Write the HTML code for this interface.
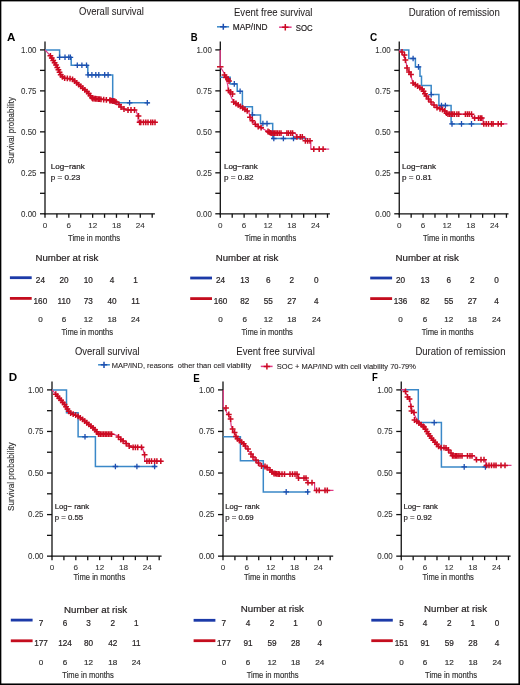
<!DOCTYPE html>
<html><head><meta charset="utf-8"><style>
html,body{margin:0;padding:0;background:#fff;}
svg{display:block;font-family:"Liberation Sans", sans-serif;will-change:transform;}

</style></head><body>
<svg width="520" height="685" viewBox="0 0 520 685">
<rect x="0" y="0" width="520" height="685" fill="#000"/>
<rect x="1.35" y="1.4" width="517.05" height="682.05" fill="#fff"/>
<text x="79" y="14.8" font-size="10.5" text-anchor="start" font-weight="normal" fill="#231f20" stroke="#231f20" stroke-width="0.05" textLength="65" lengthAdjust="spacingAndGlyphs" >Overall survival</text>
<text x="234" y="15.8" font-size="10.2" text-anchor="start" font-weight="normal" fill="#231f20" stroke="#231f20" stroke-width="0.05" textLength="78.5" lengthAdjust="spacingAndGlyphs" >Event free survival</text>
<text x="408.7" y="15.8" font-size="10.2" text-anchor="start" font-weight="normal" fill="#231f20" stroke="#231f20" stroke-width="0.05" textLength="91.1" lengthAdjust="spacingAndGlyphs" >Duration of remission</text>
<text x="75" y="354.5" font-size="10.5" text-anchor="start" font-weight="normal" fill="#231f20" stroke="#231f20" stroke-width="0.05" textLength="64.5" lengthAdjust="spacingAndGlyphs" >Overall survival</text>
<text x="236.3" y="354.5" font-size="10.2" text-anchor="start" font-weight="normal" fill="#231f20" stroke="#231f20" stroke-width="0.05" textLength="78.5" lengthAdjust="spacingAndGlyphs" >Event free survival</text>
<text x="415.4" y="354.5" font-size="10.2" text-anchor="start" font-weight="normal" fill="#231f20" stroke="#231f20" stroke-width="0.05" textLength="90.1" lengthAdjust="spacingAndGlyphs" >Duration of remission</text>
<line x1="217" y1="26.8" x2="229.1" y2="26.8" stroke="#3a88c8" stroke-width="1.5"/>
<path d="M220.10,26.80H226.50M223.30,23.80V29.80" stroke="#1d4fb0" stroke-width="1.5" fill="none"/>
<text x="232.8" y="29.8" font-size="8.7" text-anchor="start" font-weight="normal" fill="#231f20" stroke="#231f20" stroke-width="0.2" textLength="34.7" lengthAdjust="spacingAndGlyphs" >MAP/IND</text>
<line x1="279.1" y1="27.2" x2="291.6" y2="27.2" stroke="#e03a86" stroke-width="1.5"/>
<path d="M282.10,27.20H288.50M285.30,23.90V30.50" stroke="#cc0a22" stroke-width="1.5" fill="none"/>
<text x="295.7" y="30.9" font-size="9.2" text-anchor="start" font-weight="normal" fill="#231f20" stroke="#231f20" stroke-width="0.2" textLength="16.9" lengthAdjust="spacingAndGlyphs" >SOC</text>
<line x1="98.1" y1="364.8" x2="109.9" y2="364.8" stroke="#3a88c8" stroke-width="1.5"/>
<path d="M100.80,364.80H107.20M104.00,361.70V367.90" stroke="#1d4fb0" stroke-width="1.5" fill="none"/>
<text x="111.75" y="367.5" font-size="8.0" text-anchor="start" font-weight="normal" fill="#231f20" stroke="#231f20" stroke-width="0.1" textLength="139.5" lengthAdjust="spacingAndGlyphs" >MAP/IND, reasons&#160; other than cell viability</text>
<line x1="260.8" y1="366.4" x2="272.6" y2="366.4" stroke="#e03a86" stroke-width="1.5"/>
<path d="M263.70,366.40H270.10M266.90,363.20V369.60" stroke="#cc0a22" stroke-width="1.5" fill="none"/>
<text x="276.75" y="369.25" font-size="8.0" text-anchor="start" font-weight="normal" fill="#231f20" stroke="#231f20" stroke-width="0.1" textLength="139.2" lengthAdjust="spacingAndGlyphs" >SOC + MAP/IND with cell viability 70-79%</text>
<text x="6.9" y="40.6" font-size="10.8" text-anchor="start" font-weight="bold" fill="#000" stroke="#000" stroke-width="0" textLength="8.4" lengthAdjust="spacingAndGlyphs" >A</text>
<text x="190.7" y="41.3" font-size="10.8" text-anchor="start" font-weight="bold" fill="#000" stroke="#000" stroke-width="0" textLength="6.9" lengthAdjust="spacingAndGlyphs" >B</text>
<text x="370" y="40.7" font-size="10.8" text-anchor="start" font-weight="bold" fill="#000" stroke="#000" stroke-width="0" textLength="7.2" lengthAdjust="spacingAndGlyphs" >C</text>
<text x="8.7" y="381.4" font-size="10.8" text-anchor="start" font-weight="bold" fill="#000" stroke="#000" stroke-width="0" textLength="8.4" lengthAdjust="spacingAndGlyphs" >D</text>
<text x="193.2" y="381.8" font-size="10.8" text-anchor="start" font-weight="bold" fill="#000" stroke="#000" stroke-width="0" textLength="6.5" lengthAdjust="spacingAndGlyphs" >E</text>
<text x="372" y="381.4" font-size="10.8" text-anchor="start" font-weight="bold" fill="#000" stroke="#000" stroke-width="0" textLength="5.8" lengthAdjust="spacingAndGlyphs" >F</text>
<text x="0" y="0" font-size="9" fill="#333" stroke="#333" stroke-width="0.15" text-anchor="middle" textLength="66.5" lengthAdjust="spacingAndGlyphs" transform="translate(14.4,130.4) rotate(-90)">Survival probability</text>
<text x="0" y="0" font-size="9" fill="#333" stroke="#333" stroke-width="0.15" text-anchor="middle" textLength="68.6" lengthAdjust="spacingAndGlyphs" transform="translate(14.3,476.7) rotate(-90)">Survival probability</text>
<line x1="45.0" y1="41.5" x2="45.0" y2="214.4" stroke="#111" stroke-width="1.3"/>
<line x1="44.4" y1="213.8" x2="154.9" y2="213.8" stroke="#111" stroke-width="1.3"/>
<line x1="40.0" y1="49.9" x2="45.0" y2="49.9" stroke="#111" stroke-width="1.3"/>
<line x1="40.0" y1="70.3875" x2="45.0" y2="70.3875" stroke="#111" stroke-width="1.3"/>
<line x1="40.0" y1="90.875" x2="45.0" y2="90.875" stroke="#111" stroke-width="1.3"/>
<line x1="40.0" y1="111.36250000000001" x2="45.0" y2="111.36250000000001" stroke="#111" stroke-width="1.3"/>
<line x1="40.0" y1="131.85" x2="45.0" y2="131.85" stroke="#111" stroke-width="1.3"/>
<line x1="40.0" y1="152.3375" x2="45.0" y2="152.3375" stroke="#111" stroke-width="1.3"/>
<line x1="40.0" y1="172.82500000000002" x2="45.0" y2="172.82500000000002" stroke="#111" stroke-width="1.3"/>
<line x1="40.0" y1="193.3125" x2="45.0" y2="193.3125" stroke="#111" stroke-width="1.3"/>
<line x1="40.0" y1="213.8" x2="45.0" y2="213.8" stroke="#111" stroke-width="1.3"/>
<text x="36.5" y="52.8" font-size="8.2" text-anchor="end" font-weight="normal" fill="#333" stroke="#333" stroke-width="0.08" textLength="15.4" lengthAdjust="spacingAndGlyphs" >1.00</text>
<text x="36.5" y="93.775" font-size="8.2" text-anchor="end" font-weight="normal" fill="#333" stroke="#333" stroke-width="0.08" textLength="15.4" lengthAdjust="spacingAndGlyphs" >0.75</text>
<text x="36.5" y="134.75" font-size="8.2" text-anchor="end" font-weight="normal" fill="#333" stroke="#333" stroke-width="0.08" textLength="15.4" lengthAdjust="spacingAndGlyphs" >0.50</text>
<text x="36.5" y="175.72500000000002" font-size="8.2" text-anchor="end" font-weight="normal" fill="#333" stroke="#333" stroke-width="0.08" textLength="15.4" lengthAdjust="spacingAndGlyphs" >0.25</text>
<text x="36.5" y="216.70000000000002" font-size="8.2" text-anchor="end" font-weight="normal" fill="#333" stroke="#333" stroke-width="0.08" textLength="15.4" lengthAdjust="spacingAndGlyphs" >0.00</text>
<line x1="45.0" y1="213.8" x2="45.0" y2="217.8" stroke="#111" stroke-width="1.3"/>
<line x1="56.91" y1="213.8" x2="56.91" y2="217.8" stroke="#111" stroke-width="1.3"/>
<line x1="68.82" y1="213.8" x2="68.82" y2="217.8" stroke="#111" stroke-width="1.3"/>
<line x1="80.73" y1="213.8" x2="80.73" y2="217.8" stroke="#111" stroke-width="1.3"/>
<line x1="92.64" y1="213.8" x2="92.64" y2="217.8" stroke="#111" stroke-width="1.3"/>
<line x1="104.55000000000001" y1="213.8" x2="104.55000000000001" y2="217.8" stroke="#111" stroke-width="1.3"/>
<line x1="116.46000000000001" y1="213.8" x2="116.46000000000001" y2="217.8" stroke="#111" stroke-width="1.3"/>
<line x1="128.37" y1="213.8" x2="128.37" y2="217.8" stroke="#111" stroke-width="1.3"/>
<line x1="140.28" y1="213.8" x2="140.28" y2="217.8" stroke="#111" stroke-width="1.3"/>
<line x1="152.19" y1="213.8" x2="152.19" y2="217.8" stroke="#111" stroke-width="1.3"/>
<text x="45.0" y="227.9" font-size="8.1" text-anchor="middle" font-weight="normal" fill="#333" stroke="#333" stroke-width="0.08" >0</text>
<text x="68.82" y="227.9" font-size="8.1" text-anchor="middle" font-weight="normal" fill="#333" stroke="#333" stroke-width="0.08" >6</text>
<text x="92.64" y="227.9" font-size="8.1" text-anchor="middle" font-weight="normal" fill="#333" stroke="#333" stroke-width="0.08" >12</text>
<text x="116.46000000000001" y="227.9" font-size="8.1" text-anchor="middle" font-weight="normal" fill="#333" stroke="#333" stroke-width="0.08" >18</text>
<text x="140.28" y="227.9" font-size="8.1" text-anchor="middle" font-weight="normal" fill="#333" stroke="#333" stroke-width="0.08" >24</text>
<line x1="220.3" y1="41.5" x2="220.3" y2="214.4" stroke="#111" stroke-width="1.3"/>
<line x1="219.70000000000002" y1="213.8" x2="329.9" y2="213.8" stroke="#111" stroke-width="1.3"/>
<line x1="215.3" y1="49.9" x2="220.3" y2="49.9" stroke="#111" stroke-width="1.3"/>
<line x1="215.3" y1="70.3875" x2="220.3" y2="70.3875" stroke="#111" stroke-width="1.3"/>
<line x1="215.3" y1="90.875" x2="220.3" y2="90.875" stroke="#111" stroke-width="1.3"/>
<line x1="215.3" y1="111.36250000000001" x2="220.3" y2="111.36250000000001" stroke="#111" stroke-width="1.3"/>
<line x1="215.3" y1="131.85" x2="220.3" y2="131.85" stroke="#111" stroke-width="1.3"/>
<line x1="215.3" y1="152.3375" x2="220.3" y2="152.3375" stroke="#111" stroke-width="1.3"/>
<line x1="215.3" y1="172.82500000000002" x2="220.3" y2="172.82500000000002" stroke="#111" stroke-width="1.3"/>
<line x1="215.3" y1="193.3125" x2="220.3" y2="193.3125" stroke="#111" stroke-width="1.3"/>
<line x1="215.3" y1="213.8" x2="220.3" y2="213.8" stroke="#111" stroke-width="1.3"/>
<text x="211.8" y="52.8" font-size="8.2" text-anchor="end" font-weight="normal" fill="#333" stroke="#333" stroke-width="0.08" textLength="15.4" lengthAdjust="spacingAndGlyphs" >1.00</text>
<text x="211.8" y="93.775" font-size="8.2" text-anchor="end" font-weight="normal" fill="#333" stroke="#333" stroke-width="0.08" textLength="15.4" lengthAdjust="spacingAndGlyphs" >0.75</text>
<text x="211.8" y="134.75" font-size="8.2" text-anchor="end" font-weight="normal" fill="#333" stroke="#333" stroke-width="0.08" textLength="15.4" lengthAdjust="spacingAndGlyphs" >0.50</text>
<text x="211.8" y="175.72500000000002" font-size="8.2" text-anchor="end" font-weight="normal" fill="#333" stroke="#333" stroke-width="0.08" textLength="15.4" lengthAdjust="spacingAndGlyphs" >0.25</text>
<text x="211.8" y="216.70000000000002" font-size="8.2" text-anchor="end" font-weight="normal" fill="#333" stroke="#333" stroke-width="0.08" textLength="15.4" lengthAdjust="spacingAndGlyphs" >0.00</text>
<line x1="220.3" y1="213.8" x2="220.3" y2="217.8" stroke="#111" stroke-width="1.3"/>
<line x1="232.21" y1="213.8" x2="232.21" y2="217.8" stroke="#111" stroke-width="1.3"/>
<line x1="244.12" y1="213.8" x2="244.12" y2="217.8" stroke="#111" stroke-width="1.3"/>
<line x1="256.03000000000003" y1="213.8" x2="256.03000000000003" y2="217.8" stroke="#111" stroke-width="1.3"/>
<line x1="267.94" y1="213.8" x2="267.94" y2="217.8" stroke="#111" stroke-width="1.3"/>
<line x1="279.85" y1="213.8" x2="279.85" y2="217.8" stroke="#111" stroke-width="1.3"/>
<line x1="291.76" y1="213.8" x2="291.76" y2="217.8" stroke="#111" stroke-width="1.3"/>
<line x1="303.67" y1="213.8" x2="303.67" y2="217.8" stroke="#111" stroke-width="1.3"/>
<line x1="315.58000000000004" y1="213.8" x2="315.58000000000004" y2="217.8" stroke="#111" stroke-width="1.3"/>
<line x1="327.49" y1="213.8" x2="327.49" y2="217.8" stroke="#111" stroke-width="1.3"/>
<text x="220.3" y="227.9" font-size="8.1" text-anchor="middle" font-weight="normal" fill="#333" stroke="#333" stroke-width="0.08" >0</text>
<text x="244.12" y="227.9" font-size="8.1" text-anchor="middle" font-weight="normal" fill="#333" stroke="#333" stroke-width="0.08" >6</text>
<text x="267.94" y="227.9" font-size="8.1" text-anchor="middle" font-weight="normal" fill="#333" stroke="#333" stroke-width="0.08" >12</text>
<text x="291.76" y="227.9" font-size="8.1" text-anchor="middle" font-weight="normal" fill="#333" stroke="#333" stroke-width="0.08" >18</text>
<text x="315.58000000000004" y="227.9" font-size="8.1" text-anchor="middle" font-weight="normal" fill="#333" stroke="#333" stroke-width="0.08" >24</text>
<line x1="399.25" y1="41.5" x2="399.25" y2="214.4" stroke="#111" stroke-width="1.3"/>
<line x1="398.65" y1="213.8" x2="508.5" y2="213.8" stroke="#111" stroke-width="1.3"/>
<line x1="394.25" y1="49.9" x2="399.25" y2="49.9" stroke="#111" stroke-width="1.3"/>
<line x1="394.25" y1="70.3875" x2="399.25" y2="70.3875" stroke="#111" stroke-width="1.3"/>
<line x1="394.25" y1="90.875" x2="399.25" y2="90.875" stroke="#111" stroke-width="1.3"/>
<line x1="394.25" y1="111.36250000000001" x2="399.25" y2="111.36250000000001" stroke="#111" stroke-width="1.3"/>
<line x1="394.25" y1="131.85" x2="399.25" y2="131.85" stroke="#111" stroke-width="1.3"/>
<line x1="394.25" y1="152.3375" x2="399.25" y2="152.3375" stroke="#111" stroke-width="1.3"/>
<line x1="394.25" y1="172.82500000000002" x2="399.25" y2="172.82500000000002" stroke="#111" stroke-width="1.3"/>
<line x1="394.25" y1="193.3125" x2="399.25" y2="193.3125" stroke="#111" stroke-width="1.3"/>
<line x1="394.25" y1="213.8" x2="399.25" y2="213.8" stroke="#111" stroke-width="1.3"/>
<text x="390.75" y="52.8" font-size="8.2" text-anchor="end" font-weight="normal" fill="#333" stroke="#333" stroke-width="0.08" textLength="15.4" lengthAdjust="spacingAndGlyphs" >1.00</text>
<text x="390.75" y="93.775" font-size="8.2" text-anchor="end" font-weight="normal" fill="#333" stroke="#333" stroke-width="0.08" textLength="15.4" lengthAdjust="spacingAndGlyphs" >0.75</text>
<text x="390.75" y="134.75" font-size="8.2" text-anchor="end" font-weight="normal" fill="#333" stroke="#333" stroke-width="0.08" textLength="15.4" lengthAdjust="spacingAndGlyphs" >0.50</text>
<text x="390.75" y="175.72500000000002" font-size="8.2" text-anchor="end" font-weight="normal" fill="#333" stroke="#333" stroke-width="0.08" textLength="15.4" lengthAdjust="spacingAndGlyphs" >0.25</text>
<text x="390.75" y="216.70000000000002" font-size="8.2" text-anchor="end" font-weight="normal" fill="#333" stroke="#333" stroke-width="0.08" textLength="15.4" lengthAdjust="spacingAndGlyphs" >0.00</text>
<line x1="399.25" y1="213.8" x2="399.25" y2="217.8" stroke="#111" stroke-width="1.3"/>
<line x1="411.16" y1="213.8" x2="411.16" y2="217.8" stroke="#111" stroke-width="1.3"/>
<line x1="423.07" y1="213.8" x2="423.07" y2="217.8" stroke="#111" stroke-width="1.3"/>
<line x1="434.98" y1="213.8" x2="434.98" y2="217.8" stroke="#111" stroke-width="1.3"/>
<line x1="446.89" y1="213.8" x2="446.89" y2="217.8" stroke="#111" stroke-width="1.3"/>
<line x1="458.8" y1="213.8" x2="458.8" y2="217.8" stroke="#111" stroke-width="1.3"/>
<line x1="470.71000000000004" y1="213.8" x2="470.71000000000004" y2="217.8" stroke="#111" stroke-width="1.3"/>
<line x1="482.62" y1="213.8" x2="482.62" y2="217.8" stroke="#111" stroke-width="1.3"/>
<line x1="494.53" y1="213.8" x2="494.53" y2="217.8" stroke="#111" stroke-width="1.3"/>
<line x1="506.44" y1="213.8" x2="506.44" y2="217.8" stroke="#111" stroke-width="1.3"/>
<text x="399.25" y="227.9" font-size="8.1" text-anchor="middle" font-weight="normal" fill="#333" stroke="#333" stroke-width="0.08" >0</text>
<text x="423.07" y="227.9" font-size="8.1" text-anchor="middle" font-weight="normal" fill="#333" stroke="#333" stroke-width="0.08" >6</text>
<text x="446.89" y="227.9" font-size="8.1" text-anchor="middle" font-weight="normal" fill="#333" stroke="#333" stroke-width="0.08" >12</text>
<text x="470.71000000000004" y="227.9" font-size="8.1" text-anchor="middle" font-weight="normal" fill="#333" stroke="#333" stroke-width="0.08" >18</text>
<text x="494.53" y="227.9" font-size="8.1" text-anchor="middle" font-weight="normal" fill="#333" stroke="#333" stroke-width="0.08" >24</text>
<line x1="52.0" y1="381.5" x2="52.0" y2="556.75" stroke="#111" stroke-width="1.3"/>
<line x1="51.4" y1="556.15" x2="161.6" y2="556.15" stroke="#111" stroke-width="1.3"/>
<line x1="47.0" y1="389.9" x2="52.0" y2="389.9" stroke="#111" stroke-width="1.3"/>
<line x1="47.0" y1="410.68125" x2="52.0" y2="410.68125" stroke="#111" stroke-width="1.3"/>
<line x1="47.0" y1="431.4625" x2="52.0" y2="431.4625" stroke="#111" stroke-width="1.3"/>
<line x1="47.0" y1="452.24375" x2="52.0" y2="452.24375" stroke="#111" stroke-width="1.3"/>
<line x1="47.0" y1="473.025" x2="52.0" y2="473.025" stroke="#111" stroke-width="1.3"/>
<line x1="47.0" y1="493.80625" x2="52.0" y2="493.80625" stroke="#111" stroke-width="1.3"/>
<line x1="47.0" y1="514.5875" x2="52.0" y2="514.5875" stroke="#111" stroke-width="1.3"/>
<line x1="47.0" y1="535.36875" x2="52.0" y2="535.36875" stroke="#111" stroke-width="1.3"/>
<line x1="47.0" y1="556.15" x2="52.0" y2="556.15" stroke="#111" stroke-width="1.3"/>
<text x="43.5" y="392.79999999999995" font-size="8.2" text-anchor="end" font-weight="normal" fill="#333" stroke="#333" stroke-width="0.08" textLength="15.4" lengthAdjust="spacingAndGlyphs" >1.00</text>
<text x="43.5" y="434.36249999999995" font-size="8.2" text-anchor="end" font-weight="normal" fill="#333" stroke="#333" stroke-width="0.08" textLength="15.4" lengthAdjust="spacingAndGlyphs" >0.75</text>
<text x="43.5" y="475.92499999999995" font-size="8.2" text-anchor="end" font-weight="normal" fill="#333" stroke="#333" stroke-width="0.08" textLength="15.4" lengthAdjust="spacingAndGlyphs" >0.50</text>
<text x="43.5" y="517.4875" font-size="8.2" text-anchor="end" font-weight="normal" fill="#333" stroke="#333" stroke-width="0.08" textLength="15.4" lengthAdjust="spacingAndGlyphs" >0.25</text>
<text x="43.5" y="559.05" font-size="8.2" text-anchor="end" font-weight="normal" fill="#333" stroke="#333" stroke-width="0.08" textLength="15.4" lengthAdjust="spacingAndGlyphs" >0.00</text>
<line x1="52.0" y1="556.15" x2="52.0" y2="560.15" stroke="#111" stroke-width="1.3"/>
<line x1="63.91" y1="556.15" x2="63.91" y2="560.15" stroke="#111" stroke-width="1.3"/>
<line x1="75.82" y1="556.15" x2="75.82" y2="560.15" stroke="#111" stroke-width="1.3"/>
<line x1="87.73" y1="556.15" x2="87.73" y2="560.15" stroke="#111" stroke-width="1.3"/>
<line x1="99.64" y1="556.15" x2="99.64" y2="560.15" stroke="#111" stroke-width="1.3"/>
<line x1="111.55000000000001" y1="556.15" x2="111.55000000000001" y2="560.15" stroke="#111" stroke-width="1.3"/>
<line x1="123.46000000000001" y1="556.15" x2="123.46000000000001" y2="560.15" stroke="#111" stroke-width="1.3"/>
<line x1="135.37" y1="556.15" x2="135.37" y2="560.15" stroke="#111" stroke-width="1.3"/>
<line x1="147.28" y1="556.15" x2="147.28" y2="560.15" stroke="#111" stroke-width="1.3"/>
<line x1="159.19" y1="556.15" x2="159.19" y2="560.15" stroke="#111" stroke-width="1.3"/>
<text x="52.0" y="570.25" font-size="8.1" text-anchor="middle" font-weight="normal" fill="#333" stroke="#333" stroke-width="0.08" >0</text>
<text x="75.82" y="570.25" font-size="8.1" text-anchor="middle" font-weight="normal" fill="#333" stroke="#333" stroke-width="0.08" >6</text>
<text x="99.64" y="570.25" font-size="8.1" text-anchor="middle" font-weight="normal" fill="#333" stroke="#333" stroke-width="0.08" >12</text>
<text x="123.46000000000001" y="570.25" font-size="8.1" text-anchor="middle" font-weight="normal" fill="#333" stroke="#333" stroke-width="0.08" >18</text>
<text x="147.28" y="570.25" font-size="8.1" text-anchor="middle" font-weight="normal" fill="#333" stroke="#333" stroke-width="0.08" >24</text>
<line x1="223.0" y1="381.5" x2="223.0" y2="556.75" stroke="#111" stroke-width="1.3"/>
<line x1="222.4" y1="556.15" x2="333.2" y2="556.15" stroke="#111" stroke-width="1.3"/>
<line x1="218.0" y1="389.9" x2="223.0" y2="389.9" stroke="#111" stroke-width="1.3"/>
<line x1="218.0" y1="410.68125" x2="223.0" y2="410.68125" stroke="#111" stroke-width="1.3"/>
<line x1="218.0" y1="431.4625" x2="223.0" y2="431.4625" stroke="#111" stroke-width="1.3"/>
<line x1="218.0" y1="452.24375" x2="223.0" y2="452.24375" stroke="#111" stroke-width="1.3"/>
<line x1="218.0" y1="473.025" x2="223.0" y2="473.025" stroke="#111" stroke-width="1.3"/>
<line x1="218.0" y1="493.80625" x2="223.0" y2="493.80625" stroke="#111" stroke-width="1.3"/>
<line x1="218.0" y1="514.5875" x2="223.0" y2="514.5875" stroke="#111" stroke-width="1.3"/>
<line x1="218.0" y1="535.36875" x2="223.0" y2="535.36875" stroke="#111" stroke-width="1.3"/>
<line x1="218.0" y1="556.15" x2="223.0" y2="556.15" stroke="#111" stroke-width="1.3"/>
<text x="214.5" y="392.79999999999995" font-size="8.2" text-anchor="end" font-weight="normal" fill="#333" stroke="#333" stroke-width="0.08" textLength="15.4" lengthAdjust="spacingAndGlyphs" >1.00</text>
<text x="214.5" y="434.36249999999995" font-size="8.2" text-anchor="end" font-weight="normal" fill="#333" stroke="#333" stroke-width="0.08" textLength="15.4" lengthAdjust="spacingAndGlyphs" >0.75</text>
<text x="214.5" y="475.92499999999995" font-size="8.2" text-anchor="end" font-weight="normal" fill="#333" stroke="#333" stroke-width="0.08" textLength="15.4" lengthAdjust="spacingAndGlyphs" >0.50</text>
<text x="214.5" y="517.4875" font-size="8.2" text-anchor="end" font-weight="normal" fill="#333" stroke="#333" stroke-width="0.08" textLength="15.4" lengthAdjust="spacingAndGlyphs" >0.25</text>
<text x="214.5" y="559.05" font-size="8.2" text-anchor="end" font-weight="normal" fill="#333" stroke="#333" stroke-width="0.08" textLength="15.4" lengthAdjust="spacingAndGlyphs" >0.00</text>
<line x1="223.0" y1="556.15" x2="223.0" y2="560.15" stroke="#111" stroke-width="1.3"/>
<line x1="234.91" y1="556.15" x2="234.91" y2="560.15" stroke="#111" stroke-width="1.3"/>
<line x1="246.82" y1="556.15" x2="246.82" y2="560.15" stroke="#111" stroke-width="1.3"/>
<line x1="258.73" y1="556.15" x2="258.73" y2="560.15" stroke="#111" stroke-width="1.3"/>
<line x1="270.64" y1="556.15" x2="270.64" y2="560.15" stroke="#111" stroke-width="1.3"/>
<line x1="282.55" y1="556.15" x2="282.55" y2="560.15" stroke="#111" stroke-width="1.3"/>
<line x1="294.46000000000004" y1="556.15" x2="294.46000000000004" y2="560.15" stroke="#111" stroke-width="1.3"/>
<line x1="306.37" y1="556.15" x2="306.37" y2="560.15" stroke="#111" stroke-width="1.3"/>
<line x1="318.28" y1="556.15" x2="318.28" y2="560.15" stroke="#111" stroke-width="1.3"/>
<line x1="330.19" y1="556.15" x2="330.19" y2="560.15" stroke="#111" stroke-width="1.3"/>
<text x="223.0" y="570.25" font-size="8.1" text-anchor="middle" font-weight="normal" fill="#333" stroke="#333" stroke-width="0.08" >0</text>
<text x="246.82" y="570.25" font-size="8.1" text-anchor="middle" font-weight="normal" fill="#333" stroke="#333" stroke-width="0.08" >6</text>
<text x="270.64" y="570.25" font-size="8.1" text-anchor="middle" font-weight="normal" fill="#333" stroke="#333" stroke-width="0.08" >12</text>
<text x="294.46000000000004" y="570.25" font-size="8.1" text-anchor="middle" font-weight="normal" fill="#333" stroke="#333" stroke-width="0.08" >18</text>
<text x="318.28" y="570.25" font-size="8.1" text-anchor="middle" font-weight="normal" fill="#333" stroke="#333" stroke-width="0.08" >24</text>
<line x1="401.25" y1="381.5" x2="401.25" y2="556.75" stroke="#111" stroke-width="1.3"/>
<line x1="400.65" y1="556.15" x2="510.6" y2="556.15" stroke="#111" stroke-width="1.3"/>
<line x1="396.25" y1="389.9" x2="401.25" y2="389.9" stroke="#111" stroke-width="1.3"/>
<line x1="396.25" y1="410.68125" x2="401.25" y2="410.68125" stroke="#111" stroke-width="1.3"/>
<line x1="396.25" y1="431.4625" x2="401.25" y2="431.4625" stroke="#111" stroke-width="1.3"/>
<line x1="396.25" y1="452.24375" x2="401.25" y2="452.24375" stroke="#111" stroke-width="1.3"/>
<line x1="396.25" y1="473.025" x2="401.25" y2="473.025" stroke="#111" stroke-width="1.3"/>
<line x1="396.25" y1="493.80625" x2="401.25" y2="493.80625" stroke="#111" stroke-width="1.3"/>
<line x1="396.25" y1="514.5875" x2="401.25" y2="514.5875" stroke="#111" stroke-width="1.3"/>
<line x1="396.25" y1="535.36875" x2="401.25" y2="535.36875" stroke="#111" stroke-width="1.3"/>
<line x1="396.25" y1="556.15" x2="401.25" y2="556.15" stroke="#111" stroke-width="1.3"/>
<text x="392.75" y="392.79999999999995" font-size="8.2" text-anchor="end" font-weight="normal" fill="#333" stroke="#333" stroke-width="0.08" textLength="15.4" lengthAdjust="spacingAndGlyphs" >1.00</text>
<text x="392.75" y="434.36249999999995" font-size="8.2" text-anchor="end" font-weight="normal" fill="#333" stroke="#333" stroke-width="0.08" textLength="15.4" lengthAdjust="spacingAndGlyphs" >0.75</text>
<text x="392.75" y="475.92499999999995" font-size="8.2" text-anchor="end" font-weight="normal" fill="#333" stroke="#333" stroke-width="0.08" textLength="15.4" lengthAdjust="spacingAndGlyphs" >0.50</text>
<text x="392.75" y="517.4875" font-size="8.2" text-anchor="end" font-weight="normal" fill="#333" stroke="#333" stroke-width="0.08" textLength="15.4" lengthAdjust="spacingAndGlyphs" >0.25</text>
<text x="392.75" y="559.05" font-size="8.2" text-anchor="end" font-weight="normal" fill="#333" stroke="#333" stroke-width="0.08" textLength="15.4" lengthAdjust="spacingAndGlyphs" >0.00</text>
<line x1="401.25" y1="556.15" x2="401.25" y2="560.15" stroke="#111" stroke-width="1.3"/>
<line x1="413.16" y1="556.15" x2="413.16" y2="560.15" stroke="#111" stroke-width="1.3"/>
<line x1="425.07" y1="556.15" x2="425.07" y2="560.15" stroke="#111" stroke-width="1.3"/>
<line x1="436.98" y1="556.15" x2="436.98" y2="560.15" stroke="#111" stroke-width="1.3"/>
<line x1="448.89" y1="556.15" x2="448.89" y2="560.15" stroke="#111" stroke-width="1.3"/>
<line x1="460.8" y1="556.15" x2="460.8" y2="560.15" stroke="#111" stroke-width="1.3"/>
<line x1="472.71000000000004" y1="556.15" x2="472.71000000000004" y2="560.15" stroke="#111" stroke-width="1.3"/>
<line x1="484.62" y1="556.15" x2="484.62" y2="560.15" stroke="#111" stroke-width="1.3"/>
<line x1="496.53" y1="556.15" x2="496.53" y2="560.15" stroke="#111" stroke-width="1.3"/>
<line x1="508.44" y1="556.15" x2="508.44" y2="560.15" stroke="#111" stroke-width="1.3"/>
<text x="401.25" y="570.25" font-size="8.1" text-anchor="middle" font-weight="normal" fill="#333" stroke="#333" stroke-width="0.08" >0</text>
<text x="425.07" y="570.25" font-size="8.1" text-anchor="middle" font-weight="normal" fill="#333" stroke="#333" stroke-width="0.08" >6</text>
<text x="448.89" y="570.25" font-size="8.1" text-anchor="middle" font-weight="normal" fill="#333" stroke="#333" stroke-width="0.08" >12</text>
<text x="472.71000000000004" y="570.25" font-size="8.1" text-anchor="middle" font-weight="normal" fill="#333" stroke="#333" stroke-width="0.08" >18</text>
<text x="496.53" y="570.25" font-size="8.1" text-anchor="middle" font-weight="normal" fill="#333" stroke="#333" stroke-width="0.08" >24</text>
<text x="68" y="241.1" font-size="9.8" text-anchor="start" font-weight="normal" fill="#333" stroke="#333" stroke-width="0.2" textLength="52" lengthAdjust="spacingAndGlyphs" >Time in months</text>
<text x="244.7" y="241.1" font-size="9.8" text-anchor="start" font-weight="normal" fill="#333" stroke="#333" stroke-width="0.2" textLength="51.5" lengthAdjust="spacingAndGlyphs" >Time in months</text>
<text x="423" y="241.1" font-size="9.8" text-anchor="start" font-weight="normal" fill="#333" stroke="#333" stroke-width="0.2" textLength="51.60000000000002" lengthAdjust="spacingAndGlyphs" >Time in months</text>
<text x="73.4" y="580" font-size="9.8" text-anchor="start" font-weight="normal" fill="#333" stroke="#333" stroke-width="0.2" textLength="51.8" lengthAdjust="spacingAndGlyphs" >Time in months</text>
<text x="244" y="580" font-size="9.8" text-anchor="start" font-weight="normal" fill="#333" stroke="#333" stroke-width="0.2" textLength="51.5" lengthAdjust="spacingAndGlyphs" >Time in months</text>
<text x="422.4" y="580" font-size="9.8" text-anchor="start" font-weight="normal" fill="#333" stroke="#333" stroke-width="0.2" textLength="51.5" lengthAdjust="spacingAndGlyphs" >Time in months</text>
<text x="50.8" y="168.9" font-size="7.9" text-anchor="start" font-weight="normal" fill="#231f20" stroke="#231f20" stroke-width="0.2" textLength="33.9" lengthAdjust="spacingAndGlyphs" >Log&#8722;rank</text>
<text x="50.8" y="179.6" font-size="7.9" text-anchor="start" font-weight="normal" fill="#231f20" stroke="#231f20" stroke-width="0.2" textLength="29.6" lengthAdjust="spacingAndGlyphs" >p = 0.23</text>
<text x="223.9" y="168.9" font-size="7.9" text-anchor="start" font-weight="normal" fill="#231f20" stroke="#231f20" stroke-width="0.2" textLength="33.9" lengthAdjust="spacingAndGlyphs" >Log&#8722;rank</text>
<text x="223.9" y="179.6" font-size="7.9" text-anchor="start" font-weight="normal" fill="#231f20" stroke="#231f20" stroke-width="0.2" textLength="29.6" lengthAdjust="spacingAndGlyphs" >p = 0.82</text>
<text x="402.1" y="168.9" font-size="7.9" text-anchor="start" font-weight="normal" fill="#231f20" stroke="#231f20" stroke-width="0.2" textLength="33.9" lengthAdjust="spacingAndGlyphs" >Log&#8722;rank</text>
<text x="402.1" y="179.6" font-size="7.9" text-anchor="start" font-weight="normal" fill="#231f20" stroke="#231f20" stroke-width="0.2" textLength="29.6" lengthAdjust="spacingAndGlyphs" >p = 0.81</text>
<text x="54.8" y="508.9" font-size="7.9" text-anchor="start" font-weight="normal" fill="#231f20" stroke="#231f20" stroke-width="0.2" textLength="34.4" lengthAdjust="spacingAndGlyphs" >Log&#8722; rank</text>
<text x="54.8" y="520.0" font-size="7.9" text-anchor="start" font-weight="normal" fill="#231f20" stroke="#231f20" stroke-width="0.2" textLength="28.4" lengthAdjust="spacingAndGlyphs" >p = 0.55</text>
<text x="225.3" y="508.9" font-size="7.9" text-anchor="start" font-weight="normal" fill="#231f20" stroke="#231f20" stroke-width="0.2" textLength="34.4" lengthAdjust="spacingAndGlyphs" >Log&#8722; rank</text>
<text x="225.3" y="520.0" font-size="7.9" text-anchor="start" font-weight="normal" fill="#231f20" stroke="#231f20" stroke-width="0.2" textLength="28.4" lengthAdjust="spacingAndGlyphs" >p = 0.69</text>
<text x="403.5" y="508.9" font-size="7.9" text-anchor="start" font-weight="normal" fill="#231f20" stroke="#231f20" stroke-width="0.2" textLength="34.4" lengthAdjust="spacingAndGlyphs" >Log&#8722; rank</text>
<text x="403.5" y="520.0" font-size="7.9" text-anchor="start" font-weight="normal" fill="#231f20" stroke="#231f20" stroke-width="0.2" textLength="28.4" lengthAdjust="spacingAndGlyphs" >p = 0.92</text>
<text x="35.5" y="261.2" font-size="9.5" text-anchor="start" font-weight="normal" fill="#231f20" stroke="#231f20" stroke-width="0.2" textLength="62.8" lengthAdjust="spacingAndGlyphs" >Number at risk</text>
<line x1="9.9" y1="277.7" x2="31.7" y2="277.7" stroke="#1c3aa8" stroke-width="2.8"/>
<line x1="9.9" y1="298.4" x2="31.7" y2="298.4" stroke="#c40d1e" stroke-width="2.8"/>
<text x="40.4" y="283.2" font-size="8.2" text-anchor="middle" font-weight="normal" fill="#231f20" stroke="#231f20" stroke-width="0.2" >24</text>
<text x="64" y="283.2" font-size="8.2" text-anchor="middle" font-weight="normal" fill="#231f20" stroke="#231f20" stroke-width="0.2" >20</text>
<text x="88.2" y="283.2" font-size="8.2" text-anchor="middle" font-weight="normal" fill="#231f20" stroke="#231f20" stroke-width="0.2" >10</text>
<text x="112" y="283.2" font-size="8.2" text-anchor="middle" font-weight="normal" fill="#231f20" stroke="#231f20" stroke-width="0.2" >4</text>
<text x="135.6" y="283.2" font-size="8.2" text-anchor="middle" font-weight="normal" fill="#231f20" stroke="#231f20" stroke-width="0.2" >1</text>
<text x="40.4" y="303.8" font-size="8.2" text-anchor="middle" font-weight="normal" fill="#231f20" stroke="#231f20" stroke-width="0.2" >160</text>
<text x="64" y="303.8" font-size="8.2" text-anchor="middle" font-weight="normal" fill="#231f20" stroke="#231f20" stroke-width="0.2" >110</text>
<text x="88.2" y="303.8" font-size="8.2" text-anchor="middle" font-weight="normal" fill="#231f20" stroke="#231f20" stroke-width="0.2" >73</text>
<text x="112" y="303.8" font-size="8.2" text-anchor="middle" font-weight="normal" fill="#231f20" stroke="#231f20" stroke-width="0.2" >40</text>
<text x="135.6" y="303.8" font-size="8.2" text-anchor="middle" font-weight="normal" fill="#231f20" stroke="#231f20" stroke-width="0.2" >11</text>
<text x="40.4" y="322.3" font-size="8.1" text-anchor="middle" font-weight="normal" fill="#333" stroke="#333" stroke-width="0.2" >0</text>
<text x="64" y="322.3" font-size="8.1" text-anchor="middle" font-weight="normal" fill="#333" stroke="#333" stroke-width="0.2" >6</text>
<text x="88.2" y="322.3" font-size="8.1" text-anchor="middle" font-weight="normal" fill="#333" stroke="#333" stroke-width="0.2" >12</text>
<text x="112" y="322.3" font-size="8.1" text-anchor="middle" font-weight="normal" fill="#333" stroke="#333" stroke-width="0.2" >18</text>
<text x="135.6" y="322.3" font-size="8.1" text-anchor="middle" font-weight="normal" fill="#333" stroke="#333" stroke-width="0.2" >24</text>
<text x="61.4" y="335.2" font-size="9.8" text-anchor="start" font-weight="normal" fill="#333" stroke="#333" stroke-width="0.2" textLength="51.6" lengthAdjust="spacingAndGlyphs" >Time in months</text>
<text x="215.8" y="261.2" font-size="9.5" text-anchor="start" font-weight="normal" fill="#231f20" stroke="#231f20" stroke-width="0.2" textLength="62.599999999999966" lengthAdjust="spacingAndGlyphs" >Number at risk</text>
<line x1="190.2" y1="278" x2="212" y2="278" stroke="#1c3aa8" stroke-width="2.8"/>
<line x1="190.2" y1="298.6" x2="212" y2="298.6" stroke="#c40d1e" stroke-width="2.8"/>
<text x="220.5" y="283.2" font-size="8.2" text-anchor="middle" font-weight="normal" fill="#231f20" stroke="#231f20" stroke-width="0.2" >24</text>
<text x="244.7" y="283.2" font-size="8.2" text-anchor="middle" font-weight="normal" fill="#231f20" stroke="#231f20" stroke-width="0.2" >13</text>
<text x="268.3" y="283.2" font-size="8.2" text-anchor="middle" font-weight="normal" fill="#231f20" stroke="#231f20" stroke-width="0.2" >6</text>
<text x="291.8" y="283.2" font-size="8.2" text-anchor="middle" font-weight="normal" fill="#231f20" stroke="#231f20" stroke-width="0.2" >2</text>
<text x="316.4" y="283.2" font-size="8.2" text-anchor="middle" font-weight="normal" fill="#231f20" stroke="#231f20" stroke-width="0.2" >0</text>
<text x="220.5" y="303.8" font-size="8.2" text-anchor="middle" font-weight="normal" fill="#231f20" stroke="#231f20" stroke-width="0.2" >160</text>
<text x="244.7" y="303.8" font-size="8.2" text-anchor="middle" font-weight="normal" fill="#231f20" stroke="#231f20" stroke-width="0.2" >82</text>
<text x="268.3" y="303.8" font-size="8.2" text-anchor="middle" font-weight="normal" fill="#231f20" stroke="#231f20" stroke-width="0.2" >55</text>
<text x="291.8" y="303.8" font-size="8.2" text-anchor="middle" font-weight="normal" fill="#231f20" stroke="#231f20" stroke-width="0.2" >27</text>
<text x="316.4" y="303.8" font-size="8.2" text-anchor="middle" font-weight="normal" fill="#231f20" stroke="#231f20" stroke-width="0.2" >4</text>
<text x="220.5" y="322.3" font-size="8.1" text-anchor="middle" font-weight="normal" fill="#333" stroke="#333" stroke-width="0.2" >0</text>
<text x="244.7" y="322.3" font-size="8.1" text-anchor="middle" font-weight="normal" fill="#333" stroke="#333" stroke-width="0.2" >6</text>
<text x="268.3" y="322.3" font-size="8.1" text-anchor="middle" font-weight="normal" fill="#333" stroke="#333" stroke-width="0.2" >12</text>
<text x="291.8" y="322.3" font-size="8.1" text-anchor="middle" font-weight="normal" fill="#333" stroke="#333" stroke-width="0.2" >18</text>
<text x="316.4" y="322.3" font-size="8.1" text-anchor="middle" font-weight="normal" fill="#333" stroke="#333" stroke-width="0.2" >24</text>
<text x="241.4" y="335.2" font-size="9.8" text-anchor="start" font-weight="normal" fill="#333" stroke="#333" stroke-width="0.2" textLength="51.49999999999997" lengthAdjust="spacingAndGlyphs" >Time in months</text>
<text x="395.5" y="261.2" font-size="9.5" text-anchor="start" font-weight="normal" fill="#231f20" stroke="#231f20" stroke-width="0.2" textLength="63.30000000000001" lengthAdjust="spacingAndGlyphs" >Number at risk</text>
<line x1="370.2" y1="278" x2="392.1" y2="278" stroke="#1c3aa8" stroke-width="2.8"/>
<line x1="370.2" y1="298.6" x2="392.1" y2="298.6" stroke="#c40d1e" stroke-width="2.8"/>
<text x="400.5" y="283.2" font-size="8.2" text-anchor="middle" font-weight="normal" fill="#231f20" stroke="#231f20" stroke-width="0.2" >20</text>
<text x="425.1" y="283.2" font-size="8.2" text-anchor="middle" font-weight="normal" fill="#231f20" stroke="#231f20" stroke-width="0.2" >13</text>
<text x="448.7" y="283.2" font-size="8.2" text-anchor="middle" font-weight="normal" fill="#231f20" stroke="#231f20" stroke-width="0.2" >6</text>
<text x="472.2" y="283.2" font-size="8.2" text-anchor="middle" font-weight="normal" fill="#231f20" stroke="#231f20" stroke-width="0.2" >2</text>
<text x="496.5" y="283.2" font-size="8.2" text-anchor="middle" font-weight="normal" fill="#231f20" stroke="#231f20" stroke-width="0.2" >0</text>
<text x="400.5" y="303.8" font-size="8.2" text-anchor="middle" font-weight="normal" fill="#231f20" stroke="#231f20" stroke-width="0.2" >136</text>
<text x="425.1" y="303.8" font-size="8.2" text-anchor="middle" font-weight="normal" fill="#231f20" stroke="#231f20" stroke-width="0.2" >82</text>
<text x="448.7" y="303.8" font-size="8.2" text-anchor="middle" font-weight="normal" fill="#231f20" stroke="#231f20" stroke-width="0.2" >55</text>
<text x="472.2" y="303.8" font-size="8.2" text-anchor="middle" font-weight="normal" fill="#231f20" stroke="#231f20" stroke-width="0.2" >27</text>
<text x="496.5" y="303.8" font-size="8.2" text-anchor="middle" font-weight="normal" fill="#231f20" stroke="#231f20" stroke-width="0.2" >4</text>
<text x="400.5" y="322.3" font-size="8.1" text-anchor="middle" font-weight="normal" fill="#333" stroke="#333" stroke-width="0.2" >0</text>
<text x="425.1" y="322.3" font-size="8.1" text-anchor="middle" font-weight="normal" fill="#333" stroke="#333" stroke-width="0.2" >6</text>
<text x="448.7" y="322.3" font-size="8.1" text-anchor="middle" font-weight="normal" fill="#333" stroke="#333" stroke-width="0.2" >12</text>
<text x="472.2" y="322.3" font-size="8.1" text-anchor="middle" font-weight="normal" fill="#333" stroke="#333" stroke-width="0.2" >18</text>
<text x="496.5" y="322.3" font-size="8.1" text-anchor="middle" font-weight="normal" fill="#333" stroke="#333" stroke-width="0.2" >24</text>
<text x="421.7" y="335.2" font-size="9.8" text-anchor="start" font-weight="normal" fill="#333" stroke="#333" stroke-width="0.2" textLength="51.900000000000034" lengthAdjust="spacingAndGlyphs" >Time in months</text>
<text x="64" y="612.5" font-size="9.5" text-anchor="start" font-weight="normal" fill="#231f20" stroke="#231f20" stroke-width="0.2" textLength="63.2" lengthAdjust="spacingAndGlyphs" >Number at risk</text>
<line x1="10.8" y1="620.1" x2="32.6" y2="620.1" stroke="#1c3aa8" stroke-width="2.8"/>
<line x1="10.8" y1="640.8" x2="32.6" y2="640.8" stroke="#c40d1e" stroke-width="2.8"/>
<text x="41.1" y="625.6" font-size="8.2" text-anchor="middle" font-weight="normal" fill="#231f20" stroke="#231f20" stroke-width="0.2" >7</text>
<text x="65" y="625.6" font-size="8.2" text-anchor="middle" font-weight="normal" fill="#231f20" stroke="#231f20" stroke-width="0.2" >6</text>
<text x="88.5" y="625.6" font-size="8.2" text-anchor="middle" font-weight="normal" fill="#231f20" stroke="#231f20" stroke-width="0.2" >3</text>
<text x="112.8" y="625.6" font-size="8.2" text-anchor="middle" font-weight="normal" fill="#231f20" stroke="#231f20" stroke-width="0.2" >2</text>
<text x="136.3" y="625.6" font-size="8.2" text-anchor="middle" font-weight="normal" fill="#231f20" stroke="#231f20" stroke-width="0.2" >1</text>
<text x="41.1" y="646.1" font-size="8.2" text-anchor="middle" font-weight="normal" fill="#231f20" stroke="#231f20" stroke-width="0.2" >177</text>
<text x="65" y="646.1" font-size="8.2" text-anchor="middle" font-weight="normal" fill="#231f20" stroke="#231f20" stroke-width="0.2" >124</text>
<text x="88.5" y="646.1" font-size="8.2" text-anchor="middle" font-weight="normal" fill="#231f20" stroke="#231f20" stroke-width="0.2" >80</text>
<text x="112.8" y="646.1" font-size="8.2" text-anchor="middle" font-weight="normal" fill="#231f20" stroke="#231f20" stroke-width="0.2" >42</text>
<text x="136.3" y="646.1" font-size="8.2" text-anchor="middle" font-weight="normal" fill="#231f20" stroke="#231f20" stroke-width="0.2" >11</text>
<text x="41.1" y="665.0" font-size="8.1" text-anchor="middle" font-weight="normal" fill="#333" stroke="#333" stroke-width="0.2" >0</text>
<text x="65" y="665.0" font-size="8.1" text-anchor="middle" font-weight="normal" fill="#333" stroke="#333" stroke-width="0.2" >6</text>
<text x="88.5" y="665.0" font-size="8.1" text-anchor="middle" font-weight="normal" fill="#333" stroke="#333" stroke-width="0.2" >12</text>
<text x="112.8" y="665.0" font-size="8.1" text-anchor="middle" font-weight="normal" fill="#333" stroke="#333" stroke-width="0.2" >18</text>
<text x="136.3" y="665.0" font-size="8.1" text-anchor="middle" font-weight="normal" fill="#333" stroke="#333" stroke-width="0.2" >24</text>
<text x="62.3" y="677.6" font-size="9.8" text-anchor="start" font-weight="normal" fill="#333" stroke="#333" stroke-width="0.2" textLength="51.5" lengthAdjust="spacingAndGlyphs" >Time in months</text>
<text x="240.7" y="612.3" font-size="9.5" text-anchor="start" font-weight="normal" fill="#231f20" stroke="#231f20" stroke-width="0.2" textLength="63.30000000000001" lengthAdjust="spacingAndGlyphs" >Number at risk</text>
<line x1="193.6" y1="620.3" x2="215.4" y2="620.3" stroke="#1c3aa8" stroke-width="2.8"/>
<line x1="193.6" y1="640.7" x2="215.4" y2="640.7" stroke="#c40d1e" stroke-width="2.8"/>
<text x="223.9" y="625.6" font-size="8.2" text-anchor="middle" font-weight="normal" fill="#231f20" stroke="#231f20" stroke-width="0.2" >7</text>
<text x="248.1" y="625.6" font-size="8.2" text-anchor="middle" font-weight="normal" fill="#231f20" stroke="#231f20" stroke-width="0.2" >4</text>
<text x="272" y="625.6" font-size="8.2" text-anchor="middle" font-weight="normal" fill="#231f20" stroke="#231f20" stroke-width="0.2" >2</text>
<text x="295.5" y="625.6" font-size="8.2" text-anchor="middle" font-weight="normal" fill="#231f20" stroke="#231f20" stroke-width="0.2" >1</text>
<text x="319.8" y="625.6" font-size="8.2" text-anchor="middle" font-weight="normal" fill="#231f20" stroke="#231f20" stroke-width="0.2" >0</text>
<text x="223.9" y="646.1" font-size="8.2" text-anchor="middle" font-weight="normal" fill="#231f20" stroke="#231f20" stroke-width="0.2" >177</text>
<text x="248.1" y="646.1" font-size="8.2" text-anchor="middle" font-weight="normal" fill="#231f20" stroke="#231f20" stroke-width="0.2" >91</text>
<text x="272" y="646.1" font-size="8.2" text-anchor="middle" font-weight="normal" fill="#231f20" stroke="#231f20" stroke-width="0.2" >59</text>
<text x="295.5" y="646.1" font-size="8.2" text-anchor="middle" font-weight="normal" fill="#231f20" stroke="#231f20" stroke-width="0.2" >28</text>
<text x="319.8" y="646.1" font-size="8.2" text-anchor="middle" font-weight="normal" fill="#231f20" stroke="#231f20" stroke-width="0.2" >4</text>
<text x="223.9" y="665.2" font-size="8.1" text-anchor="middle" font-weight="normal" fill="#333" stroke="#333" stroke-width="0.2" >0</text>
<text x="248.1" y="665.2" font-size="8.1" text-anchor="middle" font-weight="normal" fill="#333" stroke="#333" stroke-width="0.2" >6</text>
<text x="272" y="665.2" font-size="8.1" text-anchor="middle" font-weight="normal" fill="#333" stroke="#333" stroke-width="0.2" >12</text>
<text x="295.5" y="665.2" font-size="8.1" text-anchor="middle" font-weight="normal" fill="#333" stroke="#333" stroke-width="0.2" >18</text>
<text x="319.8" y="665.2" font-size="8.1" text-anchor="middle" font-weight="normal" fill="#333" stroke="#333" stroke-width="0.2" >24</text>
<text x="246.7" y="678" font-size="9.8" text-anchor="start" font-weight="normal" fill="#333" stroke="#333" stroke-width="0.2" textLength="51.900000000000034" lengthAdjust="spacingAndGlyphs" >Time in months</text>
<text x="424.1" y="612.3" font-size="9.5" text-anchor="start" font-weight="normal" fill="#231f20" stroke="#231f20" stroke-width="0.2" textLength="62.89999999999998" lengthAdjust="spacingAndGlyphs" >Number at risk</text>
<line x1="371.3" y1="620.2" x2="392.8" y2="620.2" stroke="#1c3aa8" stroke-width="2.8"/>
<line x1="371.3" y1="640.7" x2="392.8" y2="640.7" stroke="#c40d1e" stroke-width="2.8"/>
<text x="401.5" y="625.6" font-size="8.2" text-anchor="middle" font-weight="normal" fill="#231f20" stroke="#231f20" stroke-width="0.2" >5</text>
<text x="425.1" y="625.6" font-size="8.2" text-anchor="middle" font-weight="normal" fill="#231f20" stroke="#231f20" stroke-width="0.2" >4</text>
<text x="449.3" y="625.6" font-size="8.2" text-anchor="middle" font-weight="normal" fill="#231f20" stroke="#231f20" stroke-width="0.2" >2</text>
<text x="472.9" y="625.6" font-size="8.2" text-anchor="middle" font-weight="normal" fill="#231f20" stroke="#231f20" stroke-width="0.2" >1</text>
<text x="497.1" y="625.6" font-size="8.2" text-anchor="middle" font-weight="normal" fill="#231f20" stroke="#231f20" stroke-width="0.2" >0</text>
<text x="401.5" y="646.1" font-size="8.2" text-anchor="middle" font-weight="normal" fill="#231f20" stroke="#231f20" stroke-width="0.2" >151</text>
<text x="425.1" y="646.1" font-size="8.2" text-anchor="middle" font-weight="normal" fill="#231f20" stroke="#231f20" stroke-width="0.2" >91</text>
<text x="449.3" y="646.1" font-size="8.2" text-anchor="middle" font-weight="normal" fill="#231f20" stroke="#231f20" stroke-width="0.2" >59</text>
<text x="472.9" y="646.1" font-size="8.2" text-anchor="middle" font-weight="normal" fill="#231f20" stroke="#231f20" stroke-width="0.2" >28</text>
<text x="497.1" y="646.1" font-size="8.2" text-anchor="middle" font-weight="normal" fill="#231f20" stroke="#231f20" stroke-width="0.2" >4</text>
<text x="401.5" y="665.2" font-size="8.1" text-anchor="middle" font-weight="normal" fill="#333" stroke="#333" stroke-width="0.2" >0</text>
<text x="425.1" y="665.2" font-size="8.1" text-anchor="middle" font-weight="normal" fill="#333" stroke="#333" stroke-width="0.2" >6</text>
<text x="449.3" y="665.2" font-size="8.1" text-anchor="middle" font-weight="normal" fill="#333" stroke="#333" stroke-width="0.2" >12</text>
<text x="472.9" y="665.2" font-size="8.1" text-anchor="middle" font-weight="normal" fill="#333" stroke="#333" stroke-width="0.2" >18</text>
<text x="497.1" y="665.2" font-size="8.1" text-anchor="middle" font-weight="normal" fill="#333" stroke="#333" stroke-width="0.2" >24</text>
<text x="425.1" y="678" font-size="9.8" text-anchor="start" font-weight="normal" fill="#333" stroke="#333" stroke-width="0.2" textLength="51.89999999999998" lengthAdjust="spacingAndGlyphs" >Time in months</text>
<path d="M45,49.9 H59.6 V57.3 H71.2 V65.3 H87.8 V74.9 H112.7 V102.8 H149.6" stroke="#3a88c8" stroke-width="1.5" fill="none" stroke-linejoin="miter"/>
<path d="M56.80,57.30H62.40M59.60,54.50V60.10" stroke="#1d4fb0" stroke-width="1.3" fill="none"/>
<path d="M62.20,57.30H67.80M65.00,54.50V60.10" stroke="#1d4fb0" stroke-width="1.3" fill="none"/>
<path d="M66.00,57.30H71.60M68.80,54.50V60.10" stroke="#1d4fb0" stroke-width="1.3" fill="none"/>
<path d="M67.60,57.30H73.20M70.40,54.50V60.10" stroke="#1d4fb0" stroke-width="1.3" fill="none"/>
<path d="M74.50,65.30H80.10M77.30,62.50V68.10" stroke="#1d4fb0" stroke-width="1.3" fill="none"/>
<path d="M79.10,65.30H84.70M81.90,62.50V68.10" stroke="#1d4fb0" stroke-width="1.3" fill="none"/>
<path d="M83.70,65.30H89.30M86.50,62.50V68.10" stroke="#1d4fb0" stroke-width="1.3" fill="none"/>
<path d="M85.30,74.90H90.90M88.10,72.10V77.70" stroke="#1d4fb0" stroke-width="1.3" fill="none"/>
<path d="M89.10,74.90H94.70M91.90,72.10V77.70" stroke="#1d4fb0" stroke-width="1.3" fill="none"/>
<path d="M93.00,74.90H98.60M95.80,72.10V77.70" stroke="#1d4fb0" stroke-width="1.3" fill="none"/>
<path d="M96.00,74.90H101.60M98.80,72.10V77.70" stroke="#1d4fb0" stroke-width="1.3" fill="none"/>
<path d="M101.90,74.90H107.50M104.70,72.10V77.70" stroke="#1d4fb0" stroke-width="1.3" fill="none"/>
<path d="M105.30,74.90H110.90M108.10,72.10V77.70" stroke="#1d4fb0" stroke-width="1.3" fill="none"/>
<path d="M126.80,102.80H132.40M129.60,100.00V105.60" stroke="#1d4fb0" stroke-width="1.3" fill="none"/>
<path d="M144.50,102.80H150.10M147.30,100.00V105.60" stroke="#1d4fb0" stroke-width="1.3" fill="none"/>
<path d="M45.00,49.90 L50.40,55.80 L56.50,65.80 L61.20,75.80 L64.20,78.10 L71.90,78.80 L76.50,82.70 L82.70,88.10 L87.30,91.90 L92.70,98.50 L108.10,100.00 L117.30,102.30 L121.90,107.70 L126.50,110.00 L135.80,110.00 L138.10,116.20 L138.10,122.30 L155.80,122.30" stroke="#e03a86" stroke-width="1.2" fill="none" stroke-linejoin="miter"/>
<path d="M47.50,55.80H53.30M50.40,52.90V58.70" stroke="#cc0a22" stroke-width="1.5" fill="none"/>
<path d="M48.91,58.10H54.71M51.81,55.20V61.00" stroke="#cc0a22" stroke-width="1.5" fill="none"/>
<path d="M50.31,60.41H56.11M53.21,57.51V63.31" stroke="#cc0a22" stroke-width="1.5" fill="none"/>
<path d="M51.72,62.71H57.52M54.62,59.81V65.61" stroke="#cc0a22" stroke-width="1.5" fill="none"/>
<path d="M53.12,65.02H58.92M56.02,62.12V67.92" stroke="#cc0a22" stroke-width="1.5" fill="none"/>
<path d="M54.36,67.42H60.16M57.26,64.52V70.32" stroke="#cc0a22" stroke-width="1.5" fill="none"/>
<path d="M55.51,69.86H61.31M58.41,66.96V72.76" stroke="#cc0a22" stroke-width="1.5" fill="none"/>
<path d="M56.66,72.30H62.46M59.56,69.40V75.20" stroke="#cc0a22" stroke-width="1.5" fill="none"/>
<path d="M57.81,74.75H63.61M60.71,71.85V77.65" stroke="#cc0a22" stroke-width="1.5" fill="none"/>
<path d="M59.52,76.74H65.32M62.42,73.84V79.64" stroke="#cc0a22" stroke-width="1.5" fill="none"/>
<path d="M61.75,78.14H67.55M64.65,75.24V81.04" stroke="#cc0a22" stroke-width="1.5" fill="none"/>
<path d="M64.44,78.39H70.24M67.34,75.49V81.29" stroke="#cc0a22" stroke-width="1.5" fill="none"/>
<path d="M67.13,78.63H72.93M70.03,75.73V81.53" stroke="#cc0a22" stroke-width="1.5" fill="none"/>
<path d="M69.63,79.33H75.43M72.53,76.43V82.23" stroke="#cc0a22" stroke-width="1.5" fill="none"/>
<path d="M71.69,81.08H77.49M74.59,78.18V83.98" stroke="#cc0a22" stroke-width="1.5" fill="none"/>
<path d="M73.75,82.83H79.55M76.65,79.93V85.73" stroke="#cc0a22" stroke-width="1.5" fill="none"/>
<path d="M75.78,84.60H81.58M78.68,81.70V87.50" stroke="#cc0a22" stroke-width="1.5" fill="none"/>
<path d="M77.82,86.37H83.62M80.72,83.47V89.27" stroke="#cc0a22" stroke-width="1.5" fill="none"/>
<path d="M79.86,88.15H85.66M82.76,85.25V91.05" stroke="#cc0a22" stroke-width="1.5" fill="none"/>
<path d="M81.94,89.87H87.74M84.84,86.97V92.77" stroke="#cc0a22" stroke-width="1.5" fill="none"/>
<path d="M84.02,91.59H89.82M86.92,88.69V94.49" stroke="#cc0a22" stroke-width="1.5" fill="none"/>
<path d="M85.80,93.61H91.60M88.70,90.71V96.51" stroke="#cc0a22" stroke-width="1.5" fill="none"/>
<path d="M87.51,95.70H93.31M90.41,92.80V98.60" stroke="#cc0a22" stroke-width="1.5" fill="none"/>
<path d="M89.22,97.79H95.02M92.12,94.89V100.69" stroke="#cc0a22" stroke-width="1.5" fill="none"/>
<path d="M89.80,98.50H95.60M92.70,95.60V101.40" stroke="#cc0a22" stroke-width="1.5" fill="none"/>
<path d="M91.19,98.63H96.99M94.09,95.73V101.53" stroke="#cc0a22" stroke-width="1.5" fill="none"/>
<path d="M92.59,98.77H98.39M95.49,95.87V101.67" stroke="#cc0a22" stroke-width="1.5" fill="none"/>
<path d="M93.98,98.90H99.78M96.88,96.00V101.80" stroke="#cc0a22" stroke-width="1.5" fill="none"/>
<path d="M95.37,99.04H101.17M98.27,96.14V101.94" stroke="#cc0a22" stroke-width="1.5" fill="none"/>
<path d="M96.77,99.17H102.57M99.67,96.27V102.07" stroke="#cc0a22" stroke-width="1.5" fill="none"/>
<path d="M98.10,99.30H103.90M101.00,96.40V102.20" stroke="#cc0a22" stroke-width="1.5" fill="none"/>
<path d="M100.79,99.56H106.59M103.69,96.66V102.46" stroke="#cc0a22" stroke-width="1.5" fill="none"/>
<path d="M103.47,99.83H109.27M106.37,96.93V102.73" stroke="#cc0a22" stroke-width="1.5" fill="none"/>
<path d="M107.10,100.30H112.90M110.00,97.40V103.20" stroke="#cc0a22" stroke-width="1.5" fill="none"/>
<path d="M108.67,100.61H114.47M111.57,97.71V103.51" stroke="#cc0a22" stroke-width="1.5" fill="none"/>
<path d="M110.24,100.93H116.04M113.14,98.03V103.83" stroke="#cc0a22" stroke-width="1.5" fill="none"/>
<path d="M111.81,101.24H117.61M114.71,98.34V104.14" stroke="#cc0a22" stroke-width="1.5" fill="none"/>
<path d="M107.10,100.50H112.90M110.00,97.60V103.40" stroke="#cc0a22" stroke-width="1.5" fill="none"/>
<path d="M110.10,101.20H115.90M113.00,98.30V104.10" stroke="#cc0a22" stroke-width="1.5" fill="none"/>
<path d="M113.10,102.00H118.90M116.00,99.10V104.90" stroke="#cc0a22" stroke-width="1.5" fill="none"/>
<path d="M116.10,104.50H121.90M119.00,101.60V107.40" stroke="#cc0a22" stroke-width="1.5" fill="none"/>
<path d="M118.10,107.00H123.90M121.00,104.10V109.90" stroke="#cc0a22" stroke-width="1.5" fill="none"/>
<path d="M121.10,109.00H126.90M124.00,106.10V111.90" stroke="#cc0a22" stroke-width="1.5" fill="none"/>
<path d="M125.10,110.00H130.90M128.00,107.10V112.90" stroke="#cc0a22" stroke-width="1.5" fill="none"/>
<path d="M128.10,110.00H133.90M131.00,107.10V112.90" stroke="#cc0a22" stroke-width="1.5" fill="none"/>
<path d="M131.60,110.00H137.40M134.50,107.10V112.90" stroke="#cc0a22" stroke-width="1.5" fill="none"/>
<path d="M135.60,116.00H141.40M138.50,113.10V118.90" stroke="#cc0a22" stroke-width="1.5" fill="none"/>
<path d="M136.70,122.30H142.50M139.60,119.40V125.20" stroke="#cc0a22" stroke-width="1.5" fill="none"/>
<path d="M137.90,122.30H143.70M140.80,119.40V125.20" stroke="#cc0a22" stroke-width="1.5" fill="none"/>
<path d="M140.60,122.30H146.40M143.50,119.40V125.20" stroke="#cc0a22" stroke-width="1.5" fill="none"/>
<path d="M142.90,122.30H148.70M145.80,119.40V125.20" stroke="#cc0a22" stroke-width="1.5" fill="none"/>
<path d="M145.10,122.30H150.90M148.00,119.40V125.20" stroke="#cc0a22" stroke-width="1.5" fill="none"/>
<path d="M147.90,122.30H153.70M150.80,119.40V125.20" stroke="#cc0a22" stroke-width="1.5" fill="none"/>
<path d="M149.80,122.30H155.60M152.70,119.40V125.20" stroke="#cc0a22" stroke-width="1.5" fill="none"/>
<path d="M152.10,122.30H157.90M155.00,119.40V125.20" stroke="#cc0a22" stroke-width="1.5" fill="none"/>
<path d="M220.25,77.3 H230.2 V83.9 H237.2 V91.3 H242.4 V106.7 H252.4 V114.9 H260.5 V123.6 H272.7 V138.5 H306.9" stroke="#3a88c8" stroke-width="1.5" fill="none" stroke-linejoin="miter"/>
<path d="M231.50,83.90H237.10M234.30,81.10V86.70" stroke="#1d4fb0" stroke-width="1.3" fill="none"/>
<path d="M237.30,91.30H242.90M240.10,88.50V94.10" stroke="#1d4fb0" stroke-width="1.3" fill="none"/>
<path d="M249.60,114.90H255.20M252.40,112.10V117.70" stroke="#1d4fb0" stroke-width="1.3" fill="none"/>
<path d="M260.10,123.60H265.70M262.90,120.80V126.40" stroke="#1d4fb0" stroke-width="1.3" fill="none"/>
<path d="M264.20,123.60H269.80M267.00,120.80V126.40" stroke="#1d4fb0" stroke-width="1.3" fill="none"/>
<path d="M271.00,138.50H276.60M273.80,135.70V141.30" stroke="#1d4fb0" stroke-width="1.3" fill="none"/>
<path d="M280.60,138.50H286.20M283.40,135.70V141.30" stroke="#1d4fb0" stroke-width="1.3" fill="none"/>
<path d="M290.70,138.50H296.30M293.50,135.70V141.30" stroke="#1d4fb0" stroke-width="1.3" fill="none"/>
<path d="M220.25,49.90 L220.25,66.80 L225.50,75.20 L227.80,85.70 L228.40,90.90 L233.10,100.90 L233.70,102.00 L248.90,112.00 L250.00,117.20 L252.40,120.70 L255.30,124.20 L258.20,126.50 L261.10,127.70 L265.20,130.00 L270.80,133.10 L295.40,133.10 L296.90,136.90 L304.60,136.90 L306.20,140.80 L310.80,140.80 L310.80,149.20 L329.20,149.20" stroke="#e03a86" stroke-width="1.2" fill="none" stroke-linejoin="miter"/>
<path d="M230.80,102.00H236.60M233.70,99.10V104.90" stroke="#cc0a22" stroke-width="1.5" fill="none"/>
<path d="M233.06,103.48H238.86M235.96,100.58V106.38" stroke="#cc0a22" stroke-width="1.5" fill="none"/>
<path d="M235.31,104.97H241.11M238.21,102.07V107.87" stroke="#cc0a22" stroke-width="1.5" fill="none"/>
<path d="M237.57,106.45H243.37M240.47,103.55V109.35" stroke="#cc0a22" stroke-width="1.5" fill="none"/>
<path d="M239.82,107.94H245.62M242.72,105.04V110.84" stroke="#cc0a22" stroke-width="1.5" fill="none"/>
<path d="M242.08,109.42H247.88M244.98,106.52V112.32" stroke="#cc0a22" stroke-width="1.5" fill="none"/>
<path d="M244.33,110.90H250.13M247.23,108.00V113.80" stroke="#cc0a22" stroke-width="1.5" fill="none"/>
<path d="M265.10,131.50H270.90M268.00,128.60V134.40" stroke="#cc0a22" stroke-width="1.5" fill="none"/>
<path d="M266.32,132.19H272.12M269.22,129.29V135.09" stroke="#cc0a22" stroke-width="1.5" fill="none"/>
<path d="M267.53,132.89H273.33M270.43,129.99V135.79" stroke="#cc0a22" stroke-width="1.5" fill="none"/>
<path d="M268.88,133.10H274.68M271.78,130.20V136.00" stroke="#cc0a22" stroke-width="1.5" fill="none"/>
<path d="M270.28,133.10H276.08M273.18,130.20V136.00" stroke="#cc0a22" stroke-width="1.5" fill="none"/>
<path d="M271.68,133.10H277.48M274.58,130.20V136.00" stroke="#cc0a22" stroke-width="1.5" fill="none"/>
<path d="M273.08,133.10H278.88M275.98,130.20V136.00" stroke="#cc0a22" stroke-width="1.5" fill="none"/>
<path d="M274.48,133.10H280.28M277.38,130.20V136.00" stroke="#cc0a22" stroke-width="1.5" fill="none"/>
<path d="M221.60,75.00H227.40M224.50,72.10V77.90" stroke="#cc0a22" stroke-width="1.5" fill="none"/>
<path d="M223.10,77.50H228.90M226.00,74.60V80.40" stroke="#cc0a22" stroke-width="1.5" fill="none"/>
<path d="M225.10,79.00H230.90M228.00,76.10V81.90" stroke="#cc0a22" stroke-width="1.5" fill="none"/>
<path d="M226.10,81.00H231.90M229.00,78.10V83.90" stroke="#cc0a22" stroke-width="1.5" fill="none"/>
<path d="M225.60,90.50H231.40M228.50,87.60V93.40" stroke="#cc0a22" stroke-width="1.5" fill="none"/>
<path d="M227.60,92.00H233.40M230.50,89.10V94.90" stroke="#cc0a22" stroke-width="1.5" fill="none"/>
<path d="M229.60,94.00H235.40M232.50,91.10V96.90" stroke="#cc0a22" stroke-width="1.5" fill="none"/>
<path d="M247.10,117.20H252.90M250.00,114.30V120.10" stroke="#cc0a22" stroke-width="1.5" fill="none"/>
<path d="M249.50,120.70H255.30M252.40,117.80V123.60" stroke="#cc0a22" stroke-width="1.5" fill="none"/>
<path d="M252.40,124.20H258.20M255.30,121.30V127.10" stroke="#cc0a22" stroke-width="1.5" fill="none"/>
<path d="M255.30,126.50H261.10M258.20,123.60V129.40" stroke="#cc0a22" stroke-width="1.5" fill="none"/>
<path d="M258.20,127.70H264.00M261.10,124.80V130.60" stroke="#cc0a22" stroke-width="1.5" fill="none"/>
<path d="M276.30,133.10H282.10M279.20,130.20V136.00" stroke="#cc0a22" stroke-width="1.5" fill="none"/>
<path d="M278.10,133.10H283.90M281.00,130.20V136.00" stroke="#cc0a22" stroke-width="1.5" fill="none"/>
<path d="M284.00,133.10H289.80M286.90,130.20V136.00" stroke="#cc0a22" stroke-width="1.5" fill="none"/>
<path d="M285.60,133.10H291.40M288.50,130.20V136.00" stroke="#cc0a22" stroke-width="1.5" fill="none"/>
<path d="M287.90,133.10H293.70M290.80,130.20V136.00" stroke="#cc0a22" stroke-width="1.5" fill="none"/>
<path d="M289.70,133.10H295.50M292.60,130.20V136.00" stroke="#cc0a22" stroke-width="1.5" fill="none"/>
<path d="M294.00,136.90H299.80M296.90,134.00V139.80" stroke="#cc0a22" stroke-width="1.5" fill="none"/>
<path d="M297.40,136.90H303.20M300.30,134.00V139.80" stroke="#cc0a22" stroke-width="1.5" fill="none"/>
<path d="M299.40,136.90H305.20M302.30,134.00V139.80" stroke="#cc0a22" stroke-width="1.5" fill="none"/>
<path d="M302.50,140.80H308.30M305.40,137.90V143.70" stroke="#cc0a22" stroke-width="1.5" fill="none"/>
<path d="M304.80,140.80H310.60M307.70,137.90V143.70" stroke="#cc0a22" stroke-width="1.5" fill="none"/>
<path d="M307.10,140.80H312.90M310.00,137.90V143.70" stroke="#cc0a22" stroke-width="1.5" fill="none"/>
<path d="M310.90,149.20H316.70M313.80,146.30V152.10" stroke="#cc0a22" stroke-width="1.5" fill="none"/>
<path d="M316.30,149.20H322.10M319.20,146.30V152.10" stroke="#cc0a22" stroke-width="1.5" fill="none"/>
<path d="M320.20,149.20H326.00M323.10,146.30V152.10" stroke="#cc0a22" stroke-width="1.5" fill="none"/>
<path d="M217,66.8H223.5" stroke="#cc0a22" stroke-width="1.5"/>
<path d="M399.2,50 H408.8 V58.5 H415.4 V66.9 H420 V76.2 H421.5 V85.4 H431.2 V94.6 H438.9 V105.5 H451.1 V123.9 H483" stroke="#3a88c8" stroke-width="1.5" fill="none" stroke-linejoin="miter"/>
<path d="M410.30,58.50H415.90M413.10,55.70V61.30" stroke="#1d4fb0" stroke-width="1.3" fill="none"/>
<path d="M415.70,66.90H421.30M418.50,64.10V69.70" stroke="#1d4fb0" stroke-width="1.3" fill="none"/>
<path d="M428.40,94.60H434.00M431.20,91.80V97.40" stroke="#1d4fb0" stroke-width="1.3" fill="none"/>
<path d="M438.70,105.50H444.30M441.50,102.70V108.30" stroke="#1d4fb0" stroke-width="1.3" fill="none"/>
<path d="M442.60,105.50H448.20M445.40,102.70V108.30" stroke="#1d4fb0" stroke-width="1.3" fill="none"/>
<path d="M449.20,123.90H454.80M452.00,121.10V126.70" stroke="#1d4fb0" stroke-width="1.3" fill="none"/>
<path d="M458.70,123.90H464.30M461.50,121.10V126.70" stroke="#1d4fb0" stroke-width="1.3" fill="none"/>
<path d="M468.70,123.90H474.30M471.50,121.10V126.70" stroke="#1d4fb0" stroke-width="1.3" fill="none"/>
<path d="M399.20,50.00 L402.30,53.10 L405.40,60.00 L407.70,69.20 L410.00,73.10 L413.10,83.10 L422.30,89.20 L426.90,96.90 L433.10,104.60 L439.20,108.50 L444.60,110.40 L447.70,114.20 L471.50,114.20 L473.10,118.10 L483.10,118.10 L483.10,123.90 L507.40,123.90" stroke="#e03a86" stroke-width="1.2" fill="none" stroke-linejoin="miter"/>
<path d="M410.20,83.10H416.00M413.10,80.20V86.00" stroke="#cc0a22" stroke-width="1.5" fill="none"/>
<path d="M412.45,84.59H418.25M415.35,81.69V87.49" stroke="#cc0a22" stroke-width="1.5" fill="none"/>
<path d="M414.70,86.08H420.50M417.60,83.18V88.98" stroke="#cc0a22" stroke-width="1.5" fill="none"/>
<path d="M416.95,87.58H422.75M419.85,84.68V90.48" stroke="#cc0a22" stroke-width="1.5" fill="none"/>
<path d="M419.20,89.07H425.00M422.10,86.17V91.97" stroke="#cc0a22" stroke-width="1.5" fill="none"/>
<path d="M420.66,91.31H426.46M423.56,88.41V94.21" stroke="#cc0a22" stroke-width="1.5" fill="none"/>
<path d="M422.05,93.63H427.85M424.95,90.73V96.53" stroke="#cc0a22" stroke-width="1.5" fill="none"/>
<path d="M423.43,95.95H429.23M426.33,93.05V98.85" stroke="#cc0a22" stroke-width="1.5" fill="none"/>
<path d="M399.10,52.00H404.90M402.00,49.10V54.90" stroke="#cc0a22" stroke-width="1.5" fill="none"/>
<path d="M401.60,55.00H407.40M404.50,52.10V57.90" stroke="#cc0a22" stroke-width="1.5" fill="none"/>
<path d="M402.50,60.00H408.30M405.40,57.10V62.90" stroke="#cc0a22" stroke-width="1.5" fill="none"/>
<path d="M404.10,68.00H409.90M407.00,65.10V70.90" stroke="#cc0a22" stroke-width="1.5" fill="none"/>
<path d="M406.10,72.00H411.90M409.00,69.10V74.90" stroke="#cc0a22" stroke-width="1.5" fill="none"/>
<path d="M408.10,74.50H413.90M411.00,71.60V77.40" stroke="#cc0a22" stroke-width="1.5" fill="none"/>
<path d="M425.60,99.00H431.40M428.50,96.10V101.90" stroke="#cc0a22" stroke-width="1.5" fill="none"/>
<path d="M428.10,102.00H433.90M431.00,99.10V104.90" stroke="#cc0a22" stroke-width="1.5" fill="none"/>
<path d="M431.10,105.00H436.90M434.00,102.10V107.90" stroke="#cc0a22" stroke-width="1.5" fill="none"/>
<path d="M434.10,107.50H439.90M437.00,104.60V110.40" stroke="#cc0a22" stroke-width="1.5" fill="none"/>
<path d="M437.10,108.80H442.90M440.00,105.90V111.70" stroke="#cc0a22" stroke-width="1.5" fill="none"/>
<path d="M439.60,109.50H445.40M442.50,106.60V112.40" stroke="#cc0a22" stroke-width="1.5" fill="none"/>
<path d="M441.90,111.00H447.70M444.80,108.10V113.90" stroke="#cc0a22" stroke-width="1.5" fill="none"/>
<path d="M443.60,113.20H449.40M446.50,110.30V116.10" stroke="#cc0a22" stroke-width="1.5" fill="none"/>
<path d="M445.10,114.20H450.90M448.00,111.30V117.10" stroke="#cc0a22" stroke-width="1.5" fill="none"/>
<path d="M446.70,114.20H452.50M449.60,111.30V117.10" stroke="#cc0a22" stroke-width="1.5" fill="none"/>
<path d="M448.30,114.20H454.10M451.20,111.30V117.10" stroke="#cc0a22" stroke-width="1.5" fill="none"/>
<path d="M449.90,114.20H455.70M452.80,111.30V117.10" stroke="#cc0a22" stroke-width="1.5" fill="none"/>
<path d="M451.50,114.20H457.30M454.40,111.30V117.10" stroke="#cc0a22" stroke-width="1.5" fill="none"/>
<path d="M454.00,114.20H459.80M456.90,111.30V117.10" stroke="#cc0a22" stroke-width="1.5" fill="none"/>
<path d="M455.90,114.20H461.70M458.80,111.30V117.10" stroke="#cc0a22" stroke-width="1.5" fill="none"/>
<path d="M462.50,114.20H468.30M465.40,111.30V117.10" stroke="#cc0a22" stroke-width="1.5" fill="none"/>
<path d="M464.50,114.20H470.30M467.40,111.30V117.10" stroke="#cc0a22" stroke-width="1.5" fill="none"/>
<path d="M466.30,114.20H472.10M469.20,111.30V117.10" stroke="#cc0a22" stroke-width="1.5" fill="none"/>
<path d="M468.60,114.20H474.40M471.50,111.30V117.10" stroke="#cc0a22" stroke-width="1.5" fill="none"/>
<path d="M471.70,118.10H477.50M474.60,115.20V121.00" stroke="#cc0a22" stroke-width="1.5" fill="none"/>
<path d="M475.60,118.10H481.40M478.50,115.20V121.00" stroke="#cc0a22" stroke-width="1.5" fill="none"/>
<path d="M477.40,118.10H483.20M480.30,115.20V121.00" stroke="#cc0a22" stroke-width="1.5" fill="none"/>
<path d="M478.90,118.10H484.70M481.80,115.20V121.00" stroke="#cc0a22" stroke-width="1.5" fill="none"/>
<path d="M480.90,123.90H486.70M483.80,121.00V126.80" stroke="#cc0a22" stroke-width="1.5" fill="none"/>
<path d="M483.30,123.90H489.10M486.20,121.00V126.80" stroke="#cc0a22" stroke-width="1.5" fill="none"/>
<path d="M485.60,123.90H491.40M488.50,121.00V126.80" stroke="#cc0a22" stroke-width="1.5" fill="none"/>
<path d="M488.60,123.90H494.40M491.50,121.00V126.80" stroke="#cc0a22" stroke-width="1.5" fill="none"/>
<path d="M490.20,123.90H496.00M493.10,121.00V126.80" stroke="#cc0a22" stroke-width="1.5" fill="none"/>
<path d="M495.30,123.90H501.10M498.20,121.00V126.80" stroke="#cc0a22" stroke-width="1.5" fill="none"/>
<path d="M498.30,123.90H504.10M501.20,121.00V126.80" stroke="#cc0a22" stroke-width="1.5" fill="none"/>
<path d="M52,389.9 H66.5 V412.7 H78.1 V436.8 H95.4 V466.5 H156.2" stroke="#3a88c8" stroke-width="1.5" fill="none" stroke-linejoin="miter"/>
<path d="M82.20,436.80H87.80M85.00,434.00V439.60" stroke="#1d4fb0" stroke-width="1.3" fill="none"/>
<path d="M112.60,466.50H118.20M115.40,463.70V469.30" stroke="#1d4fb0" stroke-width="1.3" fill="none"/>
<path d="M134.10,466.50H139.70M136.90,463.70V469.30" stroke="#1d4fb0" stroke-width="1.3" fill="none"/>
<path d="M151.80,466.50H157.40M154.60,463.70V469.30" stroke="#1d4fb0" stroke-width="1.3" fill="none"/>
<path d="M52.00,389.90 L55.80,394.20 L65.00,405.00 L69.60,412.70 L77.30,415.80 L81.90,418.80 L94.20,428.80 L98.80,434.20 L113.10,434.20 L117.70,435.80 L131.50,447.30 L142.30,447.30 L144.60,454.70 L144.60,461.20 L162.30,461.20" stroke="#e03a86" stroke-width="1.2" fill="none" stroke-linejoin="miter"/>
<path d="M52.90,394.20H58.70M55.80,391.30V397.10" stroke="#cc0a22" stroke-width="1.5" fill="none"/>
<path d="M54.65,396.26H60.45M57.55,393.36V399.16" stroke="#cc0a22" stroke-width="1.5" fill="none"/>
<path d="M56.40,398.31H62.20M59.30,395.41V401.21" stroke="#cc0a22" stroke-width="1.5" fill="none"/>
<path d="M58.15,400.37H63.95M61.05,397.47V403.27" stroke="#cc0a22" stroke-width="1.5" fill="none"/>
<path d="M59.90,402.42H65.70M62.80,399.52V405.32" stroke="#cc0a22" stroke-width="1.5" fill="none"/>
<path d="M61.65,404.48H67.45M64.55,401.58V407.38" stroke="#cc0a22" stroke-width="1.5" fill="none"/>
<path d="M63.13,406.73H68.93M66.03,403.83V409.63" stroke="#cc0a22" stroke-width="1.5" fill="none"/>
<path d="M64.52,409.05H70.32M67.42,406.15V411.95" stroke="#cc0a22" stroke-width="1.5" fill="none"/>
<path d="M65.90,411.36H71.70M68.80,408.46V414.26" stroke="#cc0a22" stroke-width="1.5" fill="none"/>
<path d="M67.76,413.13H73.56M70.66,410.23V416.03" stroke="#cc0a22" stroke-width="1.5" fill="none"/>
<path d="M70.27,414.14H76.07M73.17,411.24V417.04" stroke="#cc0a22" stroke-width="1.5" fill="none"/>
<path d="M72.77,415.14H78.57M75.67,412.24V418.04" stroke="#cc0a22" stroke-width="1.5" fill="none"/>
<path d="M75.19,416.31H80.99M78.09,413.41V419.21" stroke="#cc0a22" stroke-width="1.5" fill="none"/>
<path d="M77.45,417.79H83.25M80.35,414.89V420.69" stroke="#cc0a22" stroke-width="1.5" fill="none"/>
<path d="M79.66,419.34H85.46M82.56,416.44V422.24" stroke="#cc0a22" stroke-width="1.5" fill="none"/>
<path d="M81.76,421.04H87.56M84.66,418.14V423.94" stroke="#cc0a22" stroke-width="1.5" fill="none"/>
<path d="M83.85,422.74H89.65M86.75,419.84V425.64" stroke="#cc0a22" stroke-width="1.5" fill="none"/>
<path d="M85.95,424.45H91.75M88.85,421.55V427.35" stroke="#cc0a22" stroke-width="1.5" fill="none"/>
<path d="M88.04,426.15H93.84M90.94,423.25V429.05" stroke="#cc0a22" stroke-width="1.5" fill="none"/>
<path d="M90.14,427.85H95.94M93.04,424.95V430.75" stroke="#cc0a22" stroke-width="1.5" fill="none"/>
<path d="M92.08,429.71H97.88M94.98,426.81V432.61" stroke="#cc0a22" stroke-width="1.5" fill="none"/>
<path d="M93.83,431.77H99.63M96.73,428.87V434.67" stroke="#cc0a22" stroke-width="1.5" fill="none"/>
<path d="M95.58,433.82H101.38M98.48,430.92V436.72" stroke="#cc0a22" stroke-width="1.5" fill="none"/>
<path d="M95.90,434.20H101.70M98.80,431.30V437.10" stroke="#cc0a22" stroke-width="1.5" fill="none"/>
<path d="M97.50,434.20H103.30M100.40,431.30V437.10" stroke="#cc0a22" stroke-width="1.5" fill="none"/>
<path d="M99.10,434.20H104.90M102.00,431.30V437.10" stroke="#cc0a22" stroke-width="1.5" fill="none"/>
<path d="M100.70,434.20H106.50M103.60,431.30V437.10" stroke="#cc0a22" stroke-width="1.5" fill="none"/>
<path d="M102.30,434.20H108.10M105.20,431.30V437.10" stroke="#cc0a22" stroke-width="1.5" fill="none"/>
<path d="M103.90,434.20H109.70M106.80,431.30V437.10" stroke="#cc0a22" stroke-width="1.5" fill="none"/>
<path d="M105.50,434.20H111.30M108.40,431.30V437.10" stroke="#cc0a22" stroke-width="1.5" fill="none"/>
<path d="M107.10,434.20H112.90M110.00,431.30V437.10" stroke="#cc0a22" stroke-width="1.5" fill="none"/>
<path d="M108.70,434.20H114.50M111.60,431.30V437.10" stroke="#cc0a22" stroke-width="1.5" fill="none"/>
<path d="M115.60,437.00H121.40M118.50,434.10V439.90" stroke="#cc0a22" stroke-width="1.5" fill="none"/>
<path d="M117.90,439.50H123.70M120.80,436.60V442.40" stroke="#cc0a22" stroke-width="1.5" fill="none"/>
<path d="M120.20,441.00H126.00M123.10,438.10V443.90" stroke="#cc0a22" stroke-width="1.5" fill="none"/>
<path d="M123.30,443.50H129.10M126.20,440.60V446.40" stroke="#cc0a22" stroke-width="1.5" fill="none"/>
<path d="M126.30,446.00H132.10M129.20,443.10V448.90" stroke="#cc0a22" stroke-width="1.5" fill="none"/>
<path d="M130.20,447.30H136.00M133.10,444.40V450.20" stroke="#cc0a22" stroke-width="1.5" fill="none"/>
<path d="M132.50,447.30H138.30M135.40,444.40V450.20" stroke="#cc0a22" stroke-width="1.5" fill="none"/>
<path d="M134.80,447.30H140.60M137.70,444.40V450.20" stroke="#cc0a22" stroke-width="1.5" fill="none"/>
<path d="M138.60,447.30H144.40M141.50,444.40V450.20" stroke="#cc0a22" stroke-width="1.5" fill="none"/>
<path d="M141.70,454.70H147.50M144.60,451.80V457.60" stroke="#cc0a22" stroke-width="1.5" fill="none"/>
<path d="M144.00,461.20H149.80M146.90,458.30V464.10" stroke="#cc0a22" stroke-width="1.5" fill="none"/>
<path d="M146.30,461.20H152.10M149.20,458.30V464.10" stroke="#cc0a22" stroke-width="1.5" fill="none"/>
<path d="M148.60,461.20H154.40M151.50,458.30V464.10" stroke="#cc0a22" stroke-width="1.5" fill="none"/>
<path d="M151.70,461.20H157.50M154.60,458.30V464.10" stroke="#cc0a22" stroke-width="1.5" fill="none"/>
<path d="M154.00,461.20H159.80M156.90,458.30V464.10" stroke="#cc0a22" stroke-width="1.5" fill="none"/>
<path d="M157.90,461.20H163.70M160.80,458.30V464.10" stroke="#cc0a22" stroke-width="1.5" fill="none"/>
<path d="M223.3,436.8 H240.4 V460.8 H263.3 V491.9 H309.2" stroke="#3a88c8" stroke-width="1.5" fill="none" stroke-linejoin="miter"/>
<path d="M283.40,491.90H289.00M286.20,489.10V494.70" stroke="#1d4fb0" stroke-width="1.3" fill="none"/>
<path d="M304.90,491.90H310.50M307.70,489.10V494.70" stroke="#1d4fb0" stroke-width="1.3" fill="none"/>
<path d="M223.30,389.90 L223.30,406.50 L227.30,413.50 L230.40,418.80 L231.20,425.80 L233.50,431.90 L238.10,439.60 L243.50,443.50 L248.10,450.40 L253.50,456.50 L258.10,463.50 L264.20,466.50 L266.20,467.30 L270.80,470.40 L275.40,474.20 L296.90,474.20 L299.20,478.10 L306.20,478.10 L307.70,482.70 L314.60,482.70 L314.60,490.40 L333.50,490.40" stroke="#e03a86" stroke-width="1.2" fill="none" stroke-linejoin="miter"/>
<path d="M233.10,436.50H238.90M236.00,433.60V439.40" stroke="#cc0a22" stroke-width="1.5" fill="none"/>
<path d="M234.61,438.74H240.41M237.51,435.84V441.64" stroke="#cc0a22" stroke-width="1.5" fill="none"/>
<path d="M236.54,440.57H242.34M239.44,437.67V443.47" stroke="#cc0a22" stroke-width="1.5" fill="none"/>
<path d="M238.73,442.15H244.53M241.63,439.25V445.05" stroke="#cc0a22" stroke-width="1.5" fill="none"/>
<path d="M240.83,443.82H246.63M243.73,440.92V446.72" stroke="#cc0a22" stroke-width="1.5" fill="none"/>
<path d="M242.40,446.02H248.20M245.30,443.12V448.92" stroke="#cc0a22" stroke-width="1.5" fill="none"/>
<path d="M271.10,473.50H276.90M274.00,470.60V476.40" stroke="#cc0a22" stroke-width="1.5" fill="none"/>
<path d="M272.49,473.66H278.29M275.39,470.76V476.56" stroke="#cc0a22" stroke-width="1.5" fill="none"/>
<path d="M273.88,473.82H279.68M276.78,470.92V476.72" stroke="#cc0a22" stroke-width="1.5" fill="none"/>
<path d="M275.27,473.99H281.07M278.17,471.09V476.89" stroke="#cc0a22" stroke-width="1.5" fill="none"/>
<path d="M276.66,474.15H282.46M279.56,471.25V477.05" stroke="#cc0a22" stroke-width="1.5" fill="none"/>
<path d="M223.10,408.00H228.90M226.00,405.10V410.90" stroke="#cc0a22" stroke-width="1.5" fill="none"/>
<path d="M225.90,414.50H231.70M228.80,411.60V417.40" stroke="#cc0a22" stroke-width="1.5" fill="none"/>
<path d="M227.70,419.00H233.50M230.60,416.10V421.90" stroke="#cc0a22" stroke-width="1.5" fill="none"/>
<path d="M229.70,429.00H235.50M232.60,426.10V431.90" stroke="#cc0a22" stroke-width="1.5" fill="none"/>
<path d="M231.70,432.50H237.50M234.60,429.60V435.40" stroke="#cc0a22" stroke-width="1.5" fill="none"/>
<path d="M245.10,449.00H250.90M248.00,446.10V451.90" stroke="#cc0a22" stroke-width="1.5" fill="none"/>
<path d="M248.10,454.00H253.90M251.00,451.10V456.90" stroke="#cc0a22" stroke-width="1.5" fill="none"/>
<path d="M250.10,457.00H255.90M253.00,454.10V459.90" stroke="#cc0a22" stroke-width="1.5" fill="none"/>
<path d="M253.10,460.00H258.90M256.00,457.10V462.90" stroke="#cc0a22" stroke-width="1.5" fill="none"/>
<path d="M255.60,463.00H261.40M258.50,460.10V465.90" stroke="#cc0a22" stroke-width="1.5" fill="none"/>
<path d="M258.60,466.00H264.40M261.50,463.10V468.90" stroke="#cc0a22" stroke-width="1.5" fill="none"/>
<path d="M262.10,466.50H267.90M265.00,463.60V469.40" stroke="#cc0a22" stroke-width="1.5" fill="none"/>
<path d="M264.10,467.50H269.90M267.00,464.60V470.40" stroke="#cc0a22" stroke-width="1.5" fill="none"/>
<path d="M267.10,470.00H272.90M270.00,467.10V472.90" stroke="#cc0a22" stroke-width="1.5" fill="none"/>
<path d="M269.10,472.00H274.90M272.00,469.10V474.90" stroke="#cc0a22" stroke-width="1.5" fill="none"/>
<path d="M279.10,474.20H284.90M282.00,471.30V477.10" stroke="#cc0a22" stroke-width="1.5" fill="none"/>
<path d="M281.60,474.20H287.40M284.50,471.30V477.10" stroke="#cc0a22" stroke-width="1.5" fill="none"/>
<path d="M287.10,474.20H292.90M290.00,471.30V477.10" stroke="#cc0a22" stroke-width="1.5" fill="none"/>
<path d="M289.60,474.20H295.40M292.50,471.30V477.10" stroke="#cc0a22" stroke-width="1.5" fill="none"/>
<path d="M292.10,474.20H297.90M295.00,471.30V477.10" stroke="#cc0a22" stroke-width="1.5" fill="none"/>
<path d="M294.10,474.20H299.90M297.00,471.30V477.10" stroke="#cc0a22" stroke-width="1.5" fill="none"/>
<path d="M295.60,478.10H301.40M298.50,475.20V481.00" stroke="#cc0a22" stroke-width="1.5" fill="none"/>
<path d="M301.10,478.10H306.90M304.00,475.20V481.00" stroke="#cc0a22" stroke-width="1.5" fill="none"/>
<path d="M303.10,478.10H308.90M306.00,475.20V481.00" stroke="#cc0a22" stroke-width="1.5" fill="none"/>
<path d="M305.10,482.70H310.90M308.00,479.80V485.60" stroke="#cc0a22" stroke-width="1.5" fill="none"/>
<path d="M309.10,482.70H314.90M312.00,479.80V485.60" stroke="#cc0a22" stroke-width="1.5" fill="none"/>
<path d="M313.60,490.40H319.40M316.50,487.50V493.30" stroke="#cc0a22" stroke-width="1.5" fill="none"/>
<path d="M316.30,490.40H322.10M319.20,487.50V493.30" stroke="#cc0a22" stroke-width="1.5" fill="none"/>
<path d="M322.10,490.40H327.90M325.00,487.50V493.30" stroke="#cc0a22" stroke-width="1.5" fill="none"/>
<path d="M324.40,490.40H330.20M327.30,487.50V493.30" stroke="#cc0a22" stroke-width="1.5" fill="none"/>
<path d="M401.2,389.7 H418.3 V422.6 H441.4 V466.9 H486.2" stroke="#3a88c8" stroke-width="1.5" fill="none" stroke-linejoin="miter"/>
<path d="M431.40,422.60H437.00M434.20,419.80V425.40" stroke="#1d4fb0" stroke-width="1.3" fill="none"/>
<path d="M461.40,466.90H467.00M464.20,464.10V469.70" stroke="#1d4fb0" stroke-width="1.3" fill="none"/>
<path d="M482.60,466.90H488.20M485.40,464.10V469.70" stroke="#1d4fb0" stroke-width="1.3" fill="none"/>
<path d="M401.20,389.60 L404.00,389.60 L407.00,395.00 L410.00,400.00 L410.50,405.00 L412.00,410.00 L414.00,414.00 L417.00,420.00 L424.00,427.00 L430.40,436.80 L435.00,442.20 L439.60,447.60 L446.20,447.70 L451.50,453.80 L453.80,455.80 L474.60,455.80 L476.20,459.70 L485.40,459.70 L486.20,465.40 L511.50,465.40" stroke="#e03a86" stroke-width="1.2" fill="none" stroke-linejoin="miter"/>
<path d="M411.60,420.00H417.40M414.50,417.10V422.90" stroke="#cc0a22" stroke-width="1.5" fill="none"/>
<path d="M413.92,421.39H419.72M416.82,418.49V424.29" stroke="#cc0a22" stroke-width="1.5" fill="none"/>
<path d="M416.05,423.03H421.85M418.95,420.13V425.93" stroke="#cc0a22" stroke-width="1.5" fill="none"/>
<path d="M418.18,424.70H423.98M421.08,421.80V427.60" stroke="#cc0a22" stroke-width="1.5" fill="none"/>
<path d="M420.30,426.37H426.10M423.20,423.47V429.27" stroke="#cc0a22" stroke-width="1.5" fill="none"/>
<path d="M421.10,427.00H426.90M424.00,424.10V429.90" stroke="#cc0a22" stroke-width="1.5" fill="none"/>
<path d="M422.58,429.26H428.38M425.48,426.36V432.16" stroke="#cc0a22" stroke-width="1.5" fill="none"/>
<path d="M424.05,431.52H429.85M426.95,428.62V434.42" stroke="#cc0a22" stroke-width="1.5" fill="none"/>
<path d="M425.53,433.78H431.33M428.43,430.88V436.68" stroke="#cc0a22" stroke-width="1.5" fill="none"/>
<path d="M427.01,436.04H432.81M429.91,433.14V438.94" stroke="#cc0a22" stroke-width="1.5" fill="none"/>
<path d="M428.66,438.17H434.46M431.56,435.27V441.07" stroke="#cc0a22" stroke-width="1.5" fill="none"/>
<path d="M430.42,440.22H436.22M433.32,437.32V443.12" stroke="#cc0a22" stroke-width="1.5" fill="none"/>
<path d="M432.17,442.28H437.97M435.07,439.38V445.18" stroke="#cc0a22" stroke-width="1.5" fill="none"/>
<path d="M433.92,444.33H439.72M436.82,441.43V447.23" stroke="#cc0a22" stroke-width="1.5" fill="none"/>
<path d="M435.67,446.39H441.47M438.57,443.49V449.29" stroke="#cc0a22" stroke-width="1.5" fill="none"/>
<path d="M449.60,455.80H455.40M452.50,452.90V458.70" stroke="#cc0a22" stroke-width="1.5" fill="none"/>
<path d="M451.00,455.80H456.80M453.90,452.90V458.70" stroke="#cc0a22" stroke-width="1.5" fill="none"/>
<path d="M452.40,455.80H458.20M455.30,452.90V458.70" stroke="#cc0a22" stroke-width="1.5" fill="none"/>
<path d="M453.80,455.80H459.60M456.70,452.90V458.70" stroke="#cc0a22" stroke-width="1.5" fill="none"/>
<path d="M455.20,455.80H461.00M458.10,452.90V458.70" stroke="#cc0a22" stroke-width="1.5" fill="none"/>
<path d="M402.60,391.50H408.40M405.50,388.60V394.40" stroke="#cc0a22" stroke-width="1.5" fill="none"/>
<path d="M404.60,397.00H410.40M407.50,394.10V399.90" stroke="#cc0a22" stroke-width="1.5" fill="none"/>
<path d="M406.60,399.00H412.40M409.50,396.10V401.90" stroke="#cc0a22" stroke-width="1.5" fill="none"/>
<path d="M408.10,406.50H413.90M411.00,403.60V409.40" stroke="#cc0a22" stroke-width="1.5" fill="none"/>
<path d="M408.60,411.00H414.40M411.50,408.10V413.90" stroke="#cc0a22" stroke-width="1.5" fill="none"/>
<path d="M411.10,412.50H416.90M414.00,409.60V415.40" stroke="#cc0a22" stroke-width="1.5" fill="none"/>
<path d="M438.10,447.70H443.90M441.00,444.80V450.60" stroke="#cc0a22" stroke-width="1.5" fill="none"/>
<path d="M441.10,447.70H446.90M444.00,444.80V450.60" stroke="#cc0a22" stroke-width="1.5" fill="none"/>
<path d="M443.10,448.00H448.90M446.00,445.10V450.90" stroke="#cc0a22" stroke-width="1.5" fill="none"/>
<path d="M445.60,450.00H451.40M448.50,447.10V452.90" stroke="#cc0a22" stroke-width="1.5" fill="none"/>
<path d="M448.10,453.00H453.90M451.00,450.10V455.90" stroke="#cc0a22" stroke-width="1.5" fill="none"/>
<path d="M457.10,455.80H462.90M460.00,452.90V458.70" stroke="#cc0a22" stroke-width="1.5" fill="none"/>
<path d="M459.10,455.80H464.90M462.00,452.90V458.70" stroke="#cc0a22" stroke-width="1.5" fill="none"/>
<path d="M464.60,455.80H470.40M467.50,452.90V458.70" stroke="#cc0a22" stroke-width="1.5" fill="none"/>
<path d="M467.10,455.80H472.90M470.00,452.90V458.70" stroke="#cc0a22" stroke-width="1.5" fill="none"/>
<path d="M469.10,455.80H474.90M472.00,452.90V458.70" stroke="#cc0a22" stroke-width="1.5" fill="none"/>
<path d="M473.60,459.70H479.40M476.50,456.80V462.60" stroke="#cc0a22" stroke-width="1.5" fill="none"/>
<path d="M478.10,459.70H483.90M481.00,456.80V462.60" stroke="#cc0a22" stroke-width="1.5" fill="none"/>
<path d="M481.10,459.70H486.90M484.00,456.80V462.60" stroke="#cc0a22" stroke-width="1.5" fill="none"/>
<path d="M483.60,465.40H489.40M486.50,462.50V468.30" stroke="#cc0a22" stroke-width="1.5" fill="none"/>
<path d="M486.10,465.40H491.90M489.00,462.50V468.30" stroke="#cc0a22" stroke-width="1.5" fill="none"/>
<path d="M488.60,465.40H494.40M491.50,462.50V468.30" stroke="#cc0a22" stroke-width="1.5" fill="none"/>
<path d="M491.10,465.40H496.90M494.00,462.50V468.30" stroke="#cc0a22" stroke-width="1.5" fill="none"/>
<path d="M493.10,465.40H498.90M496.00,462.50V468.30" stroke="#cc0a22" stroke-width="1.5" fill="none"/>
<path d="M498.10,465.40H503.90M501.00,462.50V468.30" stroke="#cc0a22" stroke-width="1.5" fill="none"/>
<path d="M502.10,465.40H507.90M505.00,462.50V468.30" stroke="#cc0a22" stroke-width="1.5" fill="none"/>
</svg></body></html>
